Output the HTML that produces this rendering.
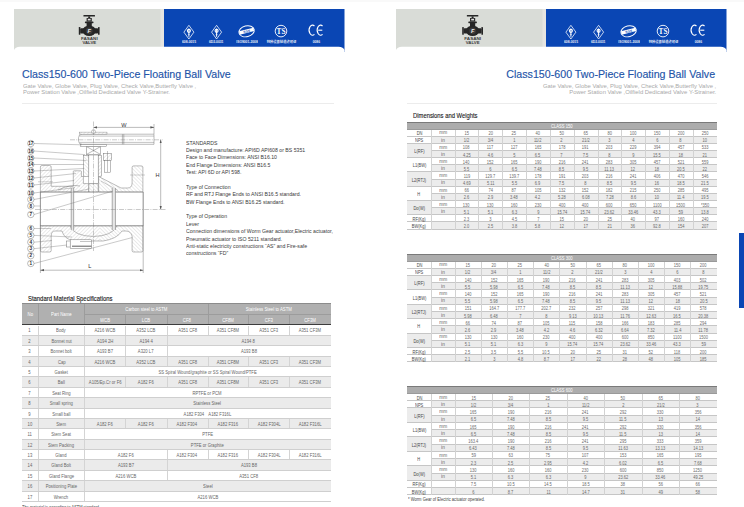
<!DOCTYPE html>
<html><head><meta charset="utf-8"><title>Class150-600 Two-Piece Floating Ball Valve</title>
<style>
*{margin:0;padding:0;box-sizing:border-box}
html,body{width:744px;height:507px;overflow:hidden;background:#fff}
body{position:relative;font-family:"Liberation Sans","Noto Sans CJK SC",sans-serif;color:#333}
.abs{position:absolute;display:block}
.t{position:absolute;white-space:nowrap;transform-origin:0 0}
.title{position:absolute;white-space:nowrap;font-size:11.4px;-webkit-text-stroke:0.15px currentColor;color:#2354a8;line-height:1}
.sub{position:absolute;white-space:nowrap;font-size:6px;color:#a9a9a9;line-height:6.45px;transform:scaleX(0.983)}
.hr{position:absolute;height:1px;background:#ececec}
.c{position:absolute;display:flex;align-items:center;justify-content:center;white-space:nowrap;overflow:visible}
</style></head><body>
<div class="abs" style="left:0;top:0;width:744px;height:2px;background:#f9f9f9"></div>


<svg class="abs" style="left:14px;top:9px" width="331" height="44" viewBox="0 0 331 44">
  <rect x="0" y="0" width="150" height="43" fill="#d9dcd7"/>
  <rect x="146.5" y="0" width="3.5" height="43" fill="#e6e5e1"/>
  <rect x="150" y="0" width="180.5" height="43" fill="#0a46b4"/>
  <path d="M0 43 L0 41 Q1 38.2 6 37.8 L324.5 37.8 Q329.5 38.2 330.5 41 L330.5 44 L0 44 Z" fill="#fff"/>
  
<g transform="translate(75.2,0)" fill="#262626">
  <rect x="-5.8" y="6" width="11.6" height="1.6" rx="0.5"/>
  <rect x="-1" y="7.4" width="2" height="2"/>
  <rect x="-2.6" y="9" width="5.2" height="3.6" fill="#2a2a2a"/>
  <rect x="-1.4" y="9.8" width="2.8" height="1.6" fill="#e0e0e0"/>
  <rect x="-4.3" y="12.6" width="8.6" height="1.6" rx="0.6"/>
  <rect x="-2.6" y="14" width="5.2" height="3"/>
  <ellipse cx="0" cy="21.8" rx="6.6" ry="5.2"/>
  <rect x="-9" y="19.2" width="18" height="5.4" rx="1"/>
  <rect x="-10.4" y="18" width="1.6" height="7.8" rx="0.6"/>
  <rect x="8.8" y="18" width="1.6" height="7.8" rx="0.6"/>
  <circle cx="0" cy="21.8" r="3.4" fill="#3a3a3a"/>
  <text x="0.1" y="24.2" font-size="5.6" font-weight="bold" font-style="italic" text-anchor="middle" fill="#eeeeee" font-family="Liberation Sans, sans-serif">F</text>
  <text x="-8.3" y="30.8" font-size="3.4" font-weight="bold" fill="#3a3a3a" font-family="Liberation Sans, sans-serif" textLength="16.8" lengthAdjust="spacingAndGlyphs">FASANI</text>
  <text x="-6.8" y="34.5" font-size="3.4" font-weight="bold" fill="#3a3a3a" font-family="Liberation Sans, sans-serif" textLength="13.8" lengthAdjust="spacingAndGlyphs">VALVE</text>
</g>
  <g fill="none" stroke="#ffffff" stroke-width="0.75">
  <path d="M174.9 16.299999999999997 L179.9 23.15 L174.9 30.0 L169.9 23.15 Z"/>
  <circle cx="174.9" cy="21.849999999999998" r="1.5" stroke-width="1.1"/>
  <path d="M174.9 19.549999999999997 V27.75" stroke-width="1"/>
  <path d="M173.9 25.349999999999998 H175.9" stroke-width="0.6"/>
</g>
<g fill="none" stroke="#ffffff" stroke-width="0.75">
  <path d="M202.6 16.299999999999997 L207.6 23.15 L202.6 30.0 L197.6 23.15 Z"/>
  <circle cx="202.6" cy="21.849999999999998" r="1.5" stroke-width="1.1"/>
  <path d="M202.6 19.549999999999997 V27.75" stroke-width="1"/>
  <path d="M201.6 25.349999999999998 H203.6" stroke-width="0.6"/>
</g>
<g transform="rotate(-14 232.6 22.3)">
  <ellipse cx="232.6" cy="22.3" rx="7.8" ry="5.4" fill="none" stroke="#ffffff" stroke-width="0.95"/>
  <rect x="225.2" y="20.5" width="14.8" height="3.4" fill="#ffffff"/>
  <text x="232.7" y="23.5" font-size="3.3" font-weight="bold" text-anchor="middle" fill="#0a46b4" font-family="Liberation Sans, sans-serif" font-style="italic">SGS</text>
</g>
<g>
  <circle cx="267" cy="22.1" r="5.8" fill="none" stroke="#ffffff" stroke-width="0.9"/>
  <text x="262.6" y="25.0" font-size="7.4" font-weight="bold" fill="#ffffff" font-family="Liberation Serif, serif" textLength="8.8" lengthAdjust="spacingAndGlyphs">TS</text>
</g>
<g fill="none" stroke="#ffffff" stroke-width="1.1">
  <path d="M300.45 17.0 A3.4 5.1 0 1 0 300.45 25.4"/>
  <path d="M308.55 17.0 A3.4 5.1 0 1 0 308.55 25.4"/>
  <path d="M304.2 21.2 H308.3"/>
</g>
<text x="175" y="34.0" font-size="3.3" font-weight="bold" text-anchor="middle" fill="#ffffff" font-family="Liberation Sans, Noto Sans CJK SC, sans-serif" opacity="0.9">608-0015</text>
<text x="202.2" y="34.0" font-size="3.3" font-weight="bold" text-anchor="middle" fill="#ffffff" font-family="Liberation Sans, Noto Sans CJK SC, sans-serif" opacity="0.9">6D2-0031</text>
<text x="233" y="34.0" font-size="3.3" font-weight="bold" text-anchor="middle" fill="#ffffff" font-family="Liberation Sans, Noto Sans CJK SC, sans-serif" opacity="0.9">ISO9001-2008</text>
<text x="267.5" y="34.0" font-size="3.3" font-weight="bold" text-anchor="middle" fill="#ffffff" font-family="Liberation Sans, Noto Sans CJK SC, sans-serif" opacity="0.9">特种设备制造许可证</text>
<text x="302.3" y="34.0" font-size="3.3" font-weight="bold" text-anchor="middle" fill="#ffffff" font-family="Liberation Sans, Noto Sans CJK SC, sans-serif" opacity="0.9">0086</text>
</svg>

<svg class="abs" style="left:395.5px;top:9px" width="331" height="44" viewBox="0 0 331 44">
  <rect x="0" y="0" width="150" height="43" fill="#d9dcd7"/>
  <rect x="146.5" y="0" width="3.5" height="43" fill="#e6e5e1"/>
  <rect x="150" y="0" width="180.5" height="43" fill="#0a46b4"/>
  <path d="M0 43 L0 41 Q1 38.2 6 37.8 L324.5 37.8 Q329.5 38.2 330.5 41 L330.5 44 L0 44 Z" fill="#fff"/>
  
<g transform="translate(76.6,0)" fill="#262626">
  <rect x="-5.8" y="6" width="11.6" height="1.6" rx="0.5"/>
  <rect x="-1" y="7.4" width="2" height="2"/>
  <rect x="-2.6" y="9" width="5.2" height="3.6" fill="#2a2a2a"/>
  <rect x="-1.4" y="9.8" width="2.8" height="1.6" fill="#e0e0e0"/>
  <rect x="-4.3" y="12.6" width="8.6" height="1.6" rx="0.6"/>
  <rect x="-2.6" y="14" width="5.2" height="3"/>
  <ellipse cx="0" cy="21.8" rx="6.6" ry="5.2"/>
  <rect x="-9" y="19.2" width="18" height="5.4" rx="1"/>
  <rect x="-10.4" y="18" width="1.6" height="7.8" rx="0.6"/>
  <rect x="8.8" y="18" width="1.6" height="7.8" rx="0.6"/>
  <circle cx="0" cy="21.8" r="3.4" fill="#3a3a3a"/>
  <text x="0.1" y="24.2" font-size="5.6" font-weight="bold" font-style="italic" text-anchor="middle" fill="#eeeeee" font-family="Liberation Sans, sans-serif">F</text>
  <text x="-8.3" y="30.8" font-size="3.4" font-weight="bold" fill="#3a3a3a" font-family="Liberation Sans, sans-serif" textLength="16.8" lengthAdjust="spacingAndGlyphs">FASANI</text>
  <text x="-6.8" y="34.5" font-size="3.4" font-weight="bold" fill="#3a3a3a" font-family="Liberation Sans, sans-serif" textLength="13.8" lengthAdjust="spacingAndGlyphs">VALVE</text>
</g>
  <g fill="none" stroke="#ffffff" stroke-width="0.75">
  <path d="M174.9 16.299999999999997 L179.9 23.15 L174.9 30.0 L169.9 23.15 Z"/>
  <circle cx="174.9" cy="21.849999999999998" r="1.5" stroke-width="1.1"/>
  <path d="M174.9 19.549999999999997 V27.75" stroke-width="1"/>
  <path d="M173.9 25.349999999999998 H175.9" stroke-width="0.6"/>
</g>
<g fill="none" stroke="#ffffff" stroke-width="0.75">
  <path d="M202.6 16.299999999999997 L207.6 23.15 L202.6 30.0 L197.6 23.15 Z"/>
  <circle cx="202.6" cy="21.849999999999998" r="1.5" stroke-width="1.1"/>
  <path d="M202.6 19.549999999999997 V27.75" stroke-width="1"/>
  <path d="M201.6 25.349999999999998 H203.6" stroke-width="0.6"/>
</g>
<g transform="rotate(-14 232.6 22.3)">
  <ellipse cx="232.6" cy="22.3" rx="7.8" ry="5.4" fill="none" stroke="#ffffff" stroke-width="0.95"/>
  <rect x="225.2" y="20.5" width="14.8" height="3.4" fill="#ffffff"/>
  <text x="232.7" y="23.5" font-size="3.3" font-weight="bold" text-anchor="middle" fill="#0a46b4" font-family="Liberation Sans, sans-serif" font-style="italic">SGS</text>
</g>
<g>
  <circle cx="267" cy="22.1" r="5.8" fill="none" stroke="#ffffff" stroke-width="0.9"/>
  <text x="262.6" y="25.0" font-size="7.4" font-weight="bold" fill="#ffffff" font-family="Liberation Serif, serif" textLength="8.8" lengthAdjust="spacingAndGlyphs">TS</text>
</g>
<g fill="none" stroke="#ffffff" stroke-width="1.1">
  <path d="M300.45 17.0 A3.4 5.1 0 1 0 300.45 25.4"/>
  <path d="M308.55 17.0 A3.4 5.1 0 1 0 308.55 25.4"/>
  <path d="M304.2 21.2 H308.3"/>
</g>
<text x="175" y="34.0" font-size="3.3" font-weight="bold" text-anchor="middle" fill="#ffffff" font-family="Liberation Sans, Noto Sans CJK SC, sans-serif" opacity="0.9">608-0015</text>
<text x="202.2" y="34.0" font-size="3.3" font-weight="bold" text-anchor="middle" fill="#ffffff" font-family="Liberation Sans, Noto Sans CJK SC, sans-serif" opacity="0.9">6D2-0031</text>
<text x="233" y="34.0" font-size="3.3" font-weight="bold" text-anchor="middle" fill="#ffffff" font-family="Liberation Sans, Noto Sans CJK SC, sans-serif" opacity="0.9">ISO9001-2008</text>
<text x="267.5" y="34.0" font-size="3.3" font-weight="bold" text-anchor="middle" fill="#ffffff" font-family="Liberation Sans, Noto Sans CJK SC, sans-serif" opacity="0.9">特种设备制造许可证</text>
<text x="302.3" y="34.0" font-size="3.3" font-weight="bold" text-anchor="middle" fill="#ffffff" font-family="Liberation Sans, Noto Sans CJK SC, sans-serif" opacity="0.9">0086</text>
</svg>
<div class="title" style="left:22.3px;top:68.6px;transform:scaleX(0.936);transform-origin:0 0">Class150-600 Two-Piece Floating Ball Valve</div>
<div class="sub" style="left:22.6px;top:83px;transform-origin:0 0">Gate Valve, Globe Valve, Plug Valve, Check Valve,Butterfly Valve ,<br>Power Station Valve ,Oilfield Dedicated Valve Y-Strainer.</div>
<div class="hr" style="left:22px;top:103px;width:312px"></div>
<div class="title" style="right:28.5px;top:69px;text-align:right;transform:scaleX(0.936);transform-origin:100% 0">Class150-600 Two-Piece Floating Ball Valve</div>
<div class="sub" style="right:27.6px;top:83px;text-align:right;transform-origin:100% 0">Gate Valve, Globe Valve, Plug Valve, Check Valve,Butterfly Valve ,<br>Power Station Valve ,Oilfield Dedicated Valve Y-Strainer.</div>
<div class="hr" style="left:407px;top:103px;width:310px"></div>
<div class="t" style="left:186px;top:139.7px;font-size:5.4px;line-height:7.37px;color:#3a3a3a;transform:scaleX(0.958)">STANDARDS<br>Design and manufacture: API6D API608 or BS 5351<br>Face to Face Dimensions: ANSI B16.10<br>End Flange Dimensions: ANSI B16.5<br>Test: API 6D or API 598.<br>&nbsp;<br>Type of Connection<br>RF and RTJ Flange Ends to ANSI B16.5 standard.<br>BW Flange Ends to ANSI B16.25 standard.<br>&nbsp;<br>Type of Operation<br>Lever<br>Connection dimensions of Worm Gear actuator,Electric actuator,<br>Pneumatic actuator to ISO 5211 standard.<br>Anti-static electricity constructions “AS” and Fire-safe<br>constructions “FD”</div>
<div class="t" style="left:28.3px;top:294.6px;font-size:7.2px;line-height:1;color:#1a1a1a;-webkit-text-stroke:0.15px #1a1a1a;transform:scaleX(0.82)">Standard Material Specifications</div>
<div class="t" style="left:413.1px;top:113.3px;font-size:6.6px;line-height:1;color:#1a1a1a;-webkit-text-stroke:0.12px #1a1a1a;transform:scaleX(0.886)">Dimensions and Weights</div>
<svg class="abs" style="left:0px;top:112px" width="180" height="168" viewBox="0 112 180 168" font-family="Liberation Sans, sans-serif">
<defs>
<pattern id="hat" patternUnits="userSpaceOnUse" width="2.6" height="2.6" patternTransform="rotate(45)">
<rect width="2.6" height="2.6" fill="#fff"/><line x1="0" y1="0" x2="0" y2="2.6" stroke="#9a9a9a" stroke-width="0.4"/></pattern>
<pattern id="hat2" patternUnits="userSpaceOnUse" width="2.6" height="2.6" patternTransform="rotate(-45)">
<rect width="2.6" height="2.6" fill="#fff"/><line x1="0" y1="0" x2="0" y2="2.6" stroke="#9a9a9a" stroke-width="0.4"/></pattern>
<marker id="ar" markerWidth="4" markerHeight="4" refX="3.6" refY="2" orient="auto" markerUnits="userSpaceOnUse"><path d="M0 0.9 L3.8 2 L0 3.1 Z" fill="#555"/></marker>
<marker id="ars" markerWidth="4" markerHeight="4" refX="3.6" refY="2" orient="auto-start-reverse" markerUnits="userSpaceOnUse"><path d="M0 0.9 L3.8 2 L0 3.1 Z" fill="#555"/></marker>
</defs>
<path d="M40.4 192 V167 Q40.4 165.5 42 165.5 H49.6 Q51.2 165.5 51.2 167 V186.3 H73.3 V171.5 Q73.3 170.8 74 170.8 H80.7 Q81.4 170.8 81.4 171.5 V176.5 L83.4 176.5 V183.6 L88.8 183.6 V192 Z" fill="url(#hat)" stroke="#6a6a6a" stroke-width="0.45"/>
<path d="M98.6 183.6 V176.5 L121 188 H127.5 Q132.1 188 132.1 183 V167.4 Q132.1 165.9 133.6 165.9 H141.3 Q142.9 165.9 142.9 167.4 V192 H98.6 Z" fill="url(#hat2)" stroke="#6a6a6a" stroke-width="0.45"/>
<line x1="101" y1="181" x2="118" y2="190.5" stroke="#7a7a7a" stroke-width="0.4"/>
<line x1="130" y1="175" x2="145" y2="175" stroke="#7a7a7a" stroke-width="0.35"/>
<line x1="38" y1="181.8" x2="53" y2="181.8" stroke="#7a7a7a" stroke-width="0.35"/>
<path d="M88.8 183.6 H98.2 V192 H88.8 Z" fill="url(#hat2)" stroke="#6a6a6a" stroke-width="0.45"/>
<clipPath id="cl"><rect x="30" y="220" width="70" height="40"/></clipPath><clipPath id="cr"><rect x="100" y="220" width="60" height="40"/></clipPath>
<path d="M40.4 225.6 H142.9 V250.5 Q142.9 252 141.4 252 H133.6 Q132.1 252 132.1 250.5 V236 Q130.5 231 126 231 H122 Q117 239 103 241 H74 Q64 239 62 231 H55 Q51.2 231 51.2 236 V250.5 Q51.2 252 49.6 252 H42 Q40.4 252 40.4 250.5 Z" fill="url(#hat)" stroke="none" clip-path="url(#cl)"/>
<path d="M40.4 225.6 H142.9 V250.5 Q142.9 252 141.4 252 H133.6 Q132.1 252 132.1 250.5 V236 Q130.5 231 126 231 H122 Q117 239 103 241 H74 Q64 239 62 231 H55 Q51.2 231 51.2 236 V250.5 Q51.2 252 49.6 252 H42 Q40.4 252 40.4 250.5 Z" fill="url(#hat2)" stroke="none" clip-path="url(#cr)"/>
<path d="M40.4 225.6 H142.9 V250.5 Q142.9 252 141.4 252 H133.6 Q132.1 252 132.1 250.5 V236 Q130.5 231 126 231 H122 Q117 239 103 241 H74 Q64 239 62 231 H55 Q51.2 231 51.2 236 V250.5 Q51.2 252 49.6 252 H42 Q40.4 252 40.4 250.5 Z" fill="none" stroke="#6a6a6a" stroke-width="0.45"/>
<path d="M70 226 Q74 236 93.5 236.5 Q112 236 117 226" fill="none" stroke="#6a6a6a" stroke-width="0.45"/>
<path d="M58 190 Q70 184 80 186" fill="none" stroke="#6a6a6a" stroke-width="0.45"/>
<line x1="40.4" y1="192" x2="143.2" y2="192" stroke="#6a6a6a" stroke-width="0.45"/>
<line x1="40.4" y1="226" x2="143.2" y2="226" stroke="#6a6a6a" stroke-width="0.45"/>
<line x1="40.4" y1="192" x2="40.4" y2="273" stroke="#6a6a6a" stroke-width="0.45"/>
<line x1="143.2" y1="192" x2="143.2" y2="273" stroke="#6a6a6a" stroke-width="0.45"/>
<line x1="40.4" y1="192" x2="40.4" y2="226" stroke="#6a6a6a" stroke-width="0.45"/>
<line x1="143.2" y1="192" x2="143.2" y2="226" stroke="#6a6a6a" stroke-width="0.45"/>
<line x1="71.3" y1="188" x2="71.3" y2="230" stroke="#7a7a7a" stroke-width="0.5"/>
<line x1="73.6" y1="188" x2="73.6" y2="230" stroke="#7a7a7a" stroke-width="0.5"/>
<line x1="112.3" y1="188" x2="112.3" y2="230" stroke="#7a7a7a" stroke-width="0.5"/>
<line x1="115.4" y1="188" x2="115.4" y2="230" stroke="#7a7a7a" stroke-width="0.5"/>
<rect x="71.3" y="188" width="2.3" height="42" fill="#e6e6e6" stroke="none"/>
<rect x="112.3" y="188" width="3.1" height="42" fill="#e6e6e6" stroke="none"/>
<line x1="71.3" y1="188" x2="71.3" y2="230" stroke="#7a7a7a" stroke-width="0.45"/>
<line x1="73.6" y1="188" x2="73.6" y2="230" stroke="#7a7a7a" stroke-width="0.45"/>
<line x1="112.3" y1="188" x2="112.3" y2="230" stroke="#7a7a7a" stroke-width="0.45"/>
<line x1="115.4" y1="188" x2="115.4" y2="230" stroke="#7a7a7a" stroke-width="0.45"/>
<rect x="88.8" y="155" width="9.4" height="28.6" fill="#fff" stroke="#6a6a6a" stroke-width="0.45"/>
<rect x="83.4" y="155.4" width="5.4" height="21.1" fill="url(#hat2)" stroke="#6a6a6a" stroke-width="0.45"/>
<rect x="98.2" y="155.4" width="3.2" height="21.1" fill="url(#hat)" stroke="#6a6a6a" stroke-width="0.45"/>
<rect x="103.5" y="153.4" width="8.1" height="7" fill="url(#hat)" stroke="#6a6a6a" stroke-width="0.45"/>
<rect x="104.5" y="160.4" width="6.1" height="11.8" fill="#fff" stroke="#6a6a6a" stroke-width="0.45"/>
<line x1="107.5" y1="151" x2="107.5" y2="172" stroke="#6a6a6a" stroke-width="0.4"/>
<rect x="86.4" y="146.5" width="14.3" height="8" fill="#fff" stroke="#6a6a6a" stroke-width="0.45"/>
<path d="M86.4 146.5 L100.7 154.5 M100.7 146.5 L86.4 154.5" stroke="#6a6a6a" stroke-width="0.45"/>
<rect x="80.2" y="144.5" width="26.5" height="2" fill="#fff" stroke="#6a6a6a" stroke-width="0.45"/>
<path d="M82.3 134.2 H154 V144.3 H82.3 Q78.5 144.3 78.5 140.8 V137.7 Q78.5 134.2 82.3 134.2 Z" fill="#fff" stroke="#6a6a6a" stroke-width="0.45"/>
<line x1="79.5" y1="136.1" x2="154" y2="136.1" stroke="#6a6a6a" stroke-width="0.4"/>
<line x1="79.5" y1="142.4" x2="154" y2="142.4" stroke="#6a6a6a" stroke-width="0.4"/>
<line x1="122.4" y1="134.2" x2="122.4" y2="144.3" stroke="#6a6a6a" stroke-width="0.45"/>
<line x1="123.8" y1="134.2" x2="123.8" y2="144.3" stroke="#6a6a6a" stroke-width="0.45"/>
<rect x="79.5" y="132.1" width="27.5" height="2" fill="url(#hat)" stroke="#6a6a6a" stroke-width="0.35"/>
<circle cx="93.5" cy="131.6" r="1.9" fill="#fff" stroke="#6a6a6a" stroke-width="0.45"/>
<rect x="66.7" y="241" width="3.5" height="6" fill="#fff" stroke="#6a6a6a" stroke-width="0.45"/>
<rect x="70.2" y="239.8" width="21.2" height="8.5" fill="#fff" stroke="#6a6a6a" stroke-width="0.45"/>
<line x1="72" y1="246.2" x2="91.4" y2="246.2" stroke="#333" stroke-width="0.8"/>
<line x1="80" y1="241.5" x2="91.4" y2="241.5" stroke="#6a6a6a" stroke-width="0.4"/>
<line x1="93.5" y1="121.5" x2="93.5" y2="251" stroke="#7a7a7a" stroke-width="0.4" stroke-dasharray="5 1.2 1 1.2"/>
<line x1="35" y1="209.5" x2="165.5" y2="209.5" stroke="#7a7a7a" stroke-width="0.4" stroke-dasharray="5 1.2 1 1.2"/>
<line x1="70" y1="139.8" x2="163" y2="139.8" stroke="#7a7a7a" stroke-width="0.4" stroke-dasharray="5 1.2 1 1.2"/>
<line x1="154" y1="124" x2="154" y2="134" stroke="#555" stroke-width="0.4"/>
<line x1="93.5" y1="127.4" x2="154" y2="127.4" stroke="#555" stroke-width="0.4" marker-end="url(#ar)" marker-start="url(#ars)"/>
<line x1="160.7" y1="139.8" x2="160.7" y2="209.5" stroke="#555" stroke-width="0.4" marker-end="url(#ar)" marker-start="url(#ars)"/>
<line x1="40.4" y1="270.2" x2="143.2" y2="270.2" stroke="#555" stroke-width="0.4" marker-end="url(#ar)" marker-start="url(#ars)"/>
<text x="123.8" y="127" font-size="5.6" text-anchor="middle" fill="#333">W</text>
<text x="157.6" y="177.4" font-size="5.6" text-anchor="middle" fill="#333">H</text>
<text x="89.9" y="268.4" font-size="5.6" text-anchor="middle" fill="#333">L</text>
<line x1="34" y1="143.5" x2="82" y2="144.8" stroke="#7a7a7a" stroke-width="0.4"/>
<line x1="34" y1="151" x2="85" y2="154.6" stroke="#7a7a7a" stroke-width="0.4"/>
<line x1="34" y1="158" x2="86.5" y2="160.5" stroke="#7a7a7a" stroke-width="0.4"/>
<line x1="34" y1="164.5" x2="84" y2="164.5" stroke="#7a7a7a" stroke-width="0.4"/>
<line x1="34" y1="171" x2="84" y2="168.5" stroke="#7a7a7a" stroke-width="0.4"/>
<line x1="34" y1="178" x2="76" y2="173.5" stroke="#7a7a7a" stroke-width="0.4"/>
<line x1="34" y1="185" x2="74" y2="180.5" stroke="#7a7a7a" stroke-width="0.4"/>
<line x1="34" y1="193" x2="75" y2="187.5" stroke="#7a7a7a" stroke-width="0.4"/>
<line x1="34" y1="199.5" x2="89" y2="189" stroke="#7a7a7a" stroke-width="0.4"/>
<line x1="34" y1="206" x2="40.4" y2="206" stroke="#7a7a7a" stroke-width="0.4"/>
<line x1="34" y1="214.5" x2="113" y2="191" stroke="#7a7a7a" stroke-width="0.4"/>
<line x1="34" y1="228.5" x2="51" y2="228.5" stroke="#7a7a7a" stroke-width="0.4"/>
<line x1="34" y1="235.4" x2="72" y2="237" stroke="#7a7a7a" stroke-width="0.4"/>
<line x1="34" y1="242.2" x2="52" y2="240.5" stroke="#7a7a7a" stroke-width="0.4"/>
<line x1="34" y1="248.7" x2="67" y2="245" stroke="#7a7a7a" stroke-width="0.4"/>
<line x1="34" y1="263.5" x2="132.4" y2="237.5" stroke="#7a7a7a" stroke-width="0.4"/>
<circle cx="30.8" cy="143.5" r="3.2" fill="#fff" stroke="#666" stroke-width="0.45"/>
<text x="30.8" y="145.15" font-size="4.7" font-weight="bold" text-anchor="middle" fill="#2a2a2a" textLength="5.2" lengthAdjust="spacingAndGlyphs">17</text>
<circle cx="30.8" cy="151" r="3.2" fill="#fff" stroke="#666" stroke-width="0.45"/>
<text x="30.8" y="152.65" font-size="4.7" font-weight="bold" text-anchor="middle" fill="#2a2a2a" textLength="5.2" lengthAdjust="spacingAndGlyphs">16</text>
<circle cx="30.8" cy="158" r="3.2" fill="#fff" stroke="#666" stroke-width="0.45"/>
<text x="30.8" y="159.65" font-size="4.7" font-weight="bold" text-anchor="middle" fill="#2a2a2a" textLength="5.2" lengthAdjust="spacingAndGlyphs">15</text>
<circle cx="30.8" cy="164.5" r="3.2" fill="#fff" stroke="#666" stroke-width="0.45"/>
<text x="30.8" y="166.15" font-size="4.7" font-weight="bold" text-anchor="middle" fill="#2a2a2a" textLength="5.2" lengthAdjust="spacingAndGlyphs">14</text>
<circle cx="30.8" cy="171" r="3.2" fill="#fff" stroke="#666" stroke-width="0.45"/>
<text x="30.8" y="172.65" font-size="4.7" font-weight="bold" text-anchor="middle" fill="#2a2a2a" textLength="5.2" lengthAdjust="spacingAndGlyphs">13</text>
<circle cx="30.8" cy="178" r="3.2" fill="#fff" stroke="#666" stroke-width="0.45"/>
<text x="30.8" y="179.65" font-size="4.7" font-weight="bold" text-anchor="middle" fill="#2a2a2a" textLength="5.2" lengthAdjust="spacingAndGlyphs">12</text>
<circle cx="30.8" cy="185" r="3.2" fill="#fff" stroke="#666" stroke-width="0.45"/>
<text x="30.8" y="186.65" font-size="4.7" font-weight="bold" text-anchor="middle" fill="#2a2a2a" textLength="5.2" lengthAdjust="spacingAndGlyphs">11</text>
<circle cx="30.8" cy="193" r="3.2" fill="#fff" stroke="#666" stroke-width="0.45"/>
<text x="30.8" y="194.65" font-size="4.7" font-weight="bold" text-anchor="middle" fill="#2a2a2a" textLength="5.2" lengthAdjust="spacingAndGlyphs">10</text>
<circle cx="30.8" cy="199.5" r="3.2" fill="#fff" stroke="#666" stroke-width="0.45"/>
<text x="30.8" y="201.15" font-size="4.7" font-weight="bold" text-anchor="middle" fill="#2a2a2a">9</text>
<circle cx="30.8" cy="206" r="3.2" fill="#fff" stroke="#666" stroke-width="0.45"/>
<text x="30.8" y="207.65" font-size="4.7" font-weight="bold" text-anchor="middle" fill="#2a2a2a">8</text>
<circle cx="30.8" cy="214.5" r="3.2" fill="#fff" stroke="#666" stroke-width="0.45"/>
<text x="30.8" y="216.15" font-size="4.7" font-weight="bold" text-anchor="middle" fill="#2a2a2a">7</text>
<circle cx="30.8" cy="228.5" r="3.2" fill="#fff" stroke="#666" stroke-width="0.45"/>
<text x="30.8" y="230.15" font-size="4.7" font-weight="bold" text-anchor="middle" fill="#2a2a2a">6</text>
<circle cx="30.8" cy="235.4" r="3.2" fill="#fff" stroke="#666" stroke-width="0.45"/>
<text x="30.8" y="237.05" font-size="4.7" font-weight="bold" text-anchor="middle" fill="#2a2a2a">5</text>
<circle cx="30.8" cy="242.2" r="3.2" fill="#fff" stroke="#666" stroke-width="0.45"/>
<text x="30.8" y="243.85" font-size="4.7" font-weight="bold" text-anchor="middle" fill="#2a2a2a">4</text>
<circle cx="30.8" cy="248.7" r="3.2" fill="#fff" stroke="#666" stroke-width="0.45"/>
<text x="30.8" y="250.35" font-size="4.7" font-weight="bold" text-anchor="middle" fill="#2a2a2a">3</text>
<circle cx="30.8" cy="255.7" r="3.2" fill="#fff" stroke="#666" stroke-width="0.45"/>
<text x="30.8" y="257.34999999999997" font-size="4.7" font-weight="bold" text-anchor="middle" fill="#2a2a2a">2</text>
<circle cx="30.8" cy="263.5" r="3.2" fill="#fff" stroke="#666" stroke-width="0.45"/>
<text x="30.8" y="265.15" font-size="4.7" font-weight="bold" text-anchor="middle" fill="#2a2a2a">1</text>
</svg>
<div class="abs" style="left:22.00px;top:303.00px;width:309.00px;height:21.00px;background:#b0b0b0"></div>
<div class="abs" style="left:22.00px;top:303.00px;width:309.00px;height:1.00px;background:#8c8c8c"></div>
<div class="abs" style="left:38.00px;top:304.00px;width:1.00px;height:20.00px;background:#9c9c9c"></div>
<div class="abs" style="left:84.00px;top:304.00px;width:1.00px;height:20.00px;background:#9c9c9c"></div>
<div class="abs" style="left:208.00px;top:304.00px;width:1.00px;height:20.00px;background:#9c9c9c"></div>
<div class="abs" style="left:84.00px;top:314.00px;width:247.00px;height:1.00px;background:#9c9c9c"></div>
<div class="abs" style="left:125.00px;top:314.00px;width:1.00px;height:10.00px;background:#9c9c9c"></div>
<div class="abs" style="left:167.00px;top:314.00px;width:1.00px;height:10.00px;background:#9c9c9c"></div>
<div class="abs" style="left:248.00px;top:314.00px;width:1.00px;height:10.00px;background:#9c9c9c"></div>
<div class="abs" style="left:289.00px;top:314.00px;width:1.00px;height:10.00px;background:#9c9c9c"></div>
<div class="c" style="left:21.50px;top:303.30px;width:16.80px;height:21.10px;font-size:5.2px;color:#fff;"><span style="display:inline-block;transform:scaleX(0.83)">No</span></div>
<div class="c" style="left:38.30px;top:303.30px;width:46.00px;height:21.10px;font-size:5.2px;color:#fff;"><span style="display:inline-block;transform:scaleX(0.83)">Part Name</span></div>
<div class="c" style="left:84.30px;top:303.60px;width:123.40px;height:11.20px;font-size:5.2px;color:#fff;"><span style="display:inline-block;transform:scaleX(0.83)">Carbon steel to ASTM</span></div>
<div class="c" style="left:207.70px;top:303.60px;width:122.90px;height:11.20px;font-size:5.2px;color:#fff;"><span style="display:inline-block;transform:scaleX(0.83)">Stainless Steel to ASTM</span></div>
<div class="c" style="left:84.30px;top:315.20px;width:40.90px;height:9.90px;font-size:5.2px;color:#fff;"><span style="display:inline-block;transform:scaleX(0.83)">WCB</span></div>
<div class="c" style="left:125.20px;top:315.20px;width:41.50px;height:9.90px;font-size:5.2px;color:#fff;"><span style="display:inline-block;transform:scaleX(0.83)">LCB</span></div>
<div class="c" style="left:166.70px;top:315.20px;width:41.00px;height:9.90px;font-size:5.2px;color:#fff;"><span style="display:inline-block;transform:scaleX(0.83)">CF8</span></div>
<div class="c" style="left:207.70px;top:315.20px;width:40.60px;height:9.90px;font-size:5.2px;color:#fff;"><span style="display:inline-block;transform:scaleX(0.83)">CF8M</span></div>
<div class="c" style="left:248.30px;top:315.20px;width:41.10px;height:9.90px;font-size:5.2px;color:#fff;"><span style="display:inline-block;transform:scaleX(0.83)">CF3</span></div>
<div class="c" style="left:289.40px;top:315.20px;width:41.20px;height:9.90px;font-size:5.2px;color:#fff;"><span style="display:inline-block;transform:scaleX(0.83)">CF3M</span></div>
<div class="abs" style="left:22.00px;top:324.00px;width:309.00px;height:1.00px;background:#3c3c3c"></div>
<div class="abs" style="left:22.00px;top:335.00px;width:309.00px;height:1.00px;background:#cfcfcf"></div>
<div class="abs" style="left:38.00px;top:326.00px;width:1.00px;height:9.00px;background:#d4d4d4"></div>
<div class="abs" style="left:84.00px;top:326.00px;width:1.00px;height:9.00px;background:#d4d4d4"></div>
<div class="c" style="left:21.50px;top:325.30px;width:16.80px;height:10.38px;font-size:5.2px;color:#666666;"><span style="display:inline-block;transform:scaleX(0.81)">1</span></div>
<div class="c" style="left:38.30px;top:325.30px;width:46.00px;height:10.38px;font-size:5.2px;color:#666666;"><span style="display:inline-block;transform:scaleX(0.81)">Body</span></div>
<div class="c" style="left:84.30px;top:325.30px;width:40.90px;height:10.38px;font-size:5.2px;color:#666666;"><span style="display:inline-block;transform:scaleX(0.81)">A216 WCB</span></div>
<div class="abs" style="left:125.00px;top:326.00px;width:1.00px;height:9.00px;background:#d4d4d4"></div>
<div class="c" style="left:125.20px;top:325.30px;width:41.50px;height:10.38px;font-size:5.2px;color:#666666;"><span style="display:inline-block;transform:scaleX(0.81)">A352 LCB</span></div>
<div class="abs" style="left:167.00px;top:326.00px;width:1.00px;height:9.00px;background:#d4d4d4"></div>
<div class="c" style="left:166.70px;top:325.30px;width:41.00px;height:10.38px;font-size:5.2px;color:#666666;"><span style="display:inline-block;transform:scaleX(0.81)">A351 CF8</span></div>
<div class="abs" style="left:208.00px;top:326.00px;width:1.00px;height:9.00px;background:#d4d4d4"></div>
<div class="c" style="left:207.70px;top:325.30px;width:40.60px;height:10.38px;font-size:5.2px;color:#666666;"><span style="display:inline-block;transform:scaleX(0.81)">A351 CF8M</span></div>
<div class="abs" style="left:248.00px;top:326.00px;width:1.00px;height:9.00px;background:#d4d4d4"></div>
<div class="c" style="left:248.30px;top:325.30px;width:41.10px;height:10.38px;font-size:5.2px;color:#666666;"><span style="display:inline-block;transform:scaleX(0.81)">A351 CF3</span></div>
<div class="abs" style="left:289.00px;top:326.00px;width:1.00px;height:9.00px;background:#d4d4d4"></div>
<div class="c" style="left:289.40px;top:325.30px;width:41.20px;height:10.38px;font-size:5.2px;color:#666666;"><span style="display:inline-block;transform:scaleX(0.81)">A351 CF3M</span></div>
<div class="abs" style="left:22.00px;top:336.00px;width:309.00px;height:10.00px;background:#ebebeb"></div>
<div class="abs" style="left:22.00px;top:345.00px;width:309.00px;height:1.00px;background:#cfcfcf"></div>
<div class="abs" style="left:38.00px;top:336.00px;width:1.00px;height:9.00px;background:#d4d4d4"></div>
<div class="abs" style="left:84.00px;top:336.00px;width:1.00px;height:9.00px;background:#d4d4d4"></div>
<div class="c" style="left:21.50px;top:335.68px;width:16.80px;height:10.38px;font-size:5.2px;color:#666666;"><span style="display:inline-block;transform:scaleX(0.81)">2</span></div>
<div class="c" style="left:38.30px;top:335.68px;width:46.00px;height:10.38px;font-size:5.2px;color:#666666;"><span style="display:inline-block;transform:scaleX(0.81)">Bonnet nut</span></div>
<div class="c" style="left:84.30px;top:335.68px;width:40.90px;height:10.38px;font-size:5.2px;color:#666666;"><span style="display:inline-block;transform:scaleX(0.81)">A194 2H</span></div>
<div class="abs" style="left:125.00px;top:336.00px;width:1.00px;height:9.00px;background:#d4d4d4"></div>
<div class="c" style="left:125.20px;top:335.68px;width:41.50px;height:10.38px;font-size:5.2px;color:#666666;"><span style="display:inline-block;transform:scaleX(0.81)">A194 4</span></div>
<div class="abs" style="left:167.00px;top:336.00px;width:1.00px;height:9.00px;background:#d4d4d4"></div>
<div class="c" style="left:166.70px;top:335.68px;width:163.90px;height:10.38px;font-size:5.2px;color:#666666;"><span style="display:inline-block;transform:scaleX(0.81)">A194 8</span></div>
<div class="abs" style="left:22.00px;top:356.00px;width:309.00px;height:1.00px;background:#cfcfcf"></div>
<div class="abs" style="left:38.00px;top:346.00px;width:1.00px;height:10.00px;background:#d4d4d4"></div>
<div class="abs" style="left:84.00px;top:346.00px;width:1.00px;height:10.00px;background:#d4d4d4"></div>
<div class="c" style="left:21.50px;top:346.06px;width:16.80px;height:10.38px;font-size:5.2px;color:#666666;"><span style="display:inline-block;transform:scaleX(0.81)">3</span></div>
<div class="c" style="left:38.30px;top:346.06px;width:46.00px;height:10.38px;font-size:5.2px;color:#666666;"><span style="display:inline-block;transform:scaleX(0.81)">Bonnet bolt</span></div>
<div class="c" style="left:84.30px;top:346.06px;width:40.90px;height:10.38px;font-size:5.2px;color:#666666;"><span style="display:inline-block;transform:scaleX(0.81)">A193 B7</span></div>
<div class="abs" style="left:125.00px;top:346.00px;width:1.00px;height:10.00px;background:#d4d4d4"></div>
<div class="c" style="left:125.20px;top:346.06px;width:41.50px;height:10.38px;font-size:5.2px;color:#666666;"><span style="display:inline-block;transform:scaleX(0.81)">A320 L7</span></div>
<div class="abs" style="left:167.00px;top:346.00px;width:1.00px;height:10.00px;background:#d4d4d4"></div>
<div class="c" style="left:166.70px;top:346.06px;width:163.90px;height:10.38px;font-size:5.2px;color:#666666;"><span style="display:inline-block;transform:scaleX(0.81)">A193 B8</span></div>
<div class="abs" style="left:22.00px;top:357.00px;width:309.00px;height:10.00px;background:#ebebeb"></div>
<div class="abs" style="left:22.00px;top:366.00px;width:309.00px;height:1.00px;background:#cfcfcf"></div>
<div class="abs" style="left:38.00px;top:357.00px;width:1.00px;height:9.00px;background:#d4d4d4"></div>
<div class="abs" style="left:84.00px;top:357.00px;width:1.00px;height:9.00px;background:#d4d4d4"></div>
<div class="c" style="left:21.50px;top:356.45px;width:16.80px;height:10.38px;font-size:5.2px;color:#666666;"><span style="display:inline-block;transform:scaleX(0.81)">4</span></div>
<div class="c" style="left:38.30px;top:356.45px;width:46.00px;height:10.38px;font-size:5.2px;color:#666666;"><span style="display:inline-block;transform:scaleX(0.81)">Cap</span></div>
<div class="c" style="left:84.30px;top:356.45px;width:40.90px;height:10.38px;font-size:5.2px;color:#666666;"><span style="display:inline-block;transform:scaleX(0.81)">A216 WCB</span></div>
<div class="abs" style="left:125.00px;top:357.00px;width:1.00px;height:9.00px;background:#d4d4d4"></div>
<div class="c" style="left:125.20px;top:356.45px;width:41.50px;height:10.38px;font-size:5.2px;color:#666666;"><span style="display:inline-block;transform:scaleX(0.81)">A352 LCB</span></div>
<div class="abs" style="left:167.00px;top:357.00px;width:1.00px;height:9.00px;background:#d4d4d4"></div>
<div class="c" style="left:166.70px;top:356.45px;width:41.00px;height:10.38px;font-size:5.2px;color:#666666;"><span style="display:inline-block;transform:scaleX(0.81)">A351 CF8</span></div>
<div class="abs" style="left:208.00px;top:357.00px;width:1.00px;height:9.00px;background:#d4d4d4"></div>
<div class="c" style="left:207.70px;top:356.45px;width:40.60px;height:10.38px;font-size:5.2px;color:#666666;"><span style="display:inline-block;transform:scaleX(0.81)">A351 CF8M</span></div>
<div class="abs" style="left:248.00px;top:357.00px;width:1.00px;height:9.00px;background:#d4d4d4"></div>
<div class="c" style="left:248.30px;top:356.45px;width:41.10px;height:10.38px;font-size:5.2px;color:#666666;"><span style="display:inline-block;transform:scaleX(0.81)">A351 CF3</span></div>
<div class="abs" style="left:289.00px;top:357.00px;width:1.00px;height:9.00px;background:#d4d4d4"></div>
<div class="c" style="left:289.40px;top:356.45px;width:41.20px;height:10.38px;font-size:5.2px;color:#666666;"><span style="display:inline-block;transform:scaleX(0.81)">A351 CF3M</span></div>
<div class="abs" style="left:22.00px;top:376.00px;width:309.00px;height:1.00px;background:#cfcfcf"></div>
<div class="abs" style="left:38.00px;top:367.00px;width:1.00px;height:9.00px;background:#d4d4d4"></div>
<div class="abs" style="left:84.00px;top:367.00px;width:1.00px;height:9.00px;background:#d4d4d4"></div>
<div class="c" style="left:21.50px;top:366.83px;width:16.80px;height:10.38px;font-size:5.2px;color:#666666;"><span style="display:inline-block;transform:scaleX(0.81)">5</span></div>
<div class="c" style="left:38.30px;top:366.83px;width:46.00px;height:10.38px;font-size:5.2px;color:#666666;"><span style="display:inline-block;transform:scaleX(0.81)">Gasket</span></div>
<div class="c" style="left:84.30px;top:366.83px;width:246.30px;height:10.38px;font-size:5.2px;color:#666666;"><span style="display:inline-block;transform:scaleX(0.81)">SS Spiral Wound/graphite or SS Spiral Wound/PTFE</span></div>
<div class="abs" style="left:22.00px;top:377.00px;width:309.00px;height:11.00px;background:#ebebeb"></div>
<div class="abs" style="left:22.00px;top:387.00px;width:309.00px;height:1.00px;background:#cfcfcf"></div>
<div class="abs" style="left:38.00px;top:377.00px;width:1.00px;height:10.00px;background:#d4d4d4"></div>
<div class="abs" style="left:84.00px;top:377.00px;width:1.00px;height:10.00px;background:#d4d4d4"></div>
<div class="c" style="left:21.50px;top:377.21px;width:16.80px;height:10.38px;font-size:5.2px;color:#666666;"><span style="display:inline-block;transform:scaleX(0.81)">6</span></div>
<div class="c" style="left:38.30px;top:377.21px;width:46.00px;height:10.38px;font-size:5.2px;color:#666666;"><span style="display:inline-block;transform:scaleX(0.81)">Ball</span></div>
<div class="c" style="left:84.30px;top:377.21px;width:40.90px;height:10.38px;font-size:5.2px;color:#666666;"><span style="display:inline-block;transform:scaleX(0.81)">A105/Ep.Cr or F6</span></div>
<div class="abs" style="left:125.00px;top:377.00px;width:1.00px;height:10.00px;background:#d4d4d4"></div>
<div class="c" style="left:125.20px;top:377.21px;width:41.50px;height:10.38px;font-size:5.2px;color:#666666;"><span style="display:inline-block;transform:scaleX(0.81)">A182 F6</span></div>
<div class="abs" style="left:167.00px;top:377.00px;width:1.00px;height:10.00px;background:#d4d4d4"></div>
<div class="c" style="left:166.70px;top:377.21px;width:41.00px;height:10.38px;font-size:5.2px;color:#666666;"><span style="display:inline-block;transform:scaleX(0.81)">A351 CF8</span></div>
<div class="abs" style="left:208.00px;top:377.00px;width:1.00px;height:10.00px;background:#d4d4d4"></div>
<div class="c" style="left:207.70px;top:377.21px;width:40.60px;height:10.38px;font-size:5.2px;color:#666666;"><span style="display:inline-block;transform:scaleX(0.81)">A351 CF8M</span></div>
<div class="abs" style="left:248.00px;top:377.00px;width:1.00px;height:10.00px;background:#d4d4d4"></div>
<div class="c" style="left:248.30px;top:377.21px;width:41.10px;height:10.38px;font-size:5.2px;color:#666666;"><span style="display:inline-block;transform:scaleX(0.81)">A351 CF3</span></div>
<div class="abs" style="left:289.00px;top:377.00px;width:1.00px;height:10.00px;background:#d4d4d4"></div>
<div class="c" style="left:289.40px;top:377.21px;width:41.20px;height:10.38px;font-size:5.2px;color:#666666;"><span style="display:inline-block;transform:scaleX(0.81)">A351 CF3M</span></div>
<div class="abs" style="left:22.00px;top:397.00px;width:309.00px;height:1.00px;background:#cfcfcf"></div>
<div class="abs" style="left:38.00px;top:388.00px;width:1.00px;height:9.00px;background:#d4d4d4"></div>
<div class="abs" style="left:84.00px;top:388.00px;width:1.00px;height:9.00px;background:#d4d4d4"></div>
<div class="c" style="left:21.50px;top:387.59px;width:16.80px;height:10.38px;font-size:5.2px;color:#666666;"><span style="display:inline-block;transform:scaleX(0.81)">7</span></div>
<div class="c" style="left:38.30px;top:387.59px;width:46.00px;height:10.38px;font-size:5.2px;color:#666666;"><span style="display:inline-block;transform:scaleX(0.81)">Seat Ring</span></div>
<div class="c" style="left:84.30px;top:387.59px;width:246.30px;height:10.38px;font-size:5.2px;color:#666666;"><span style="display:inline-block;transform:scaleX(0.81)">RPTFE or PCM</span></div>
<div class="abs" style="left:22.00px;top:398.00px;width:309.00px;height:11.00px;background:#ebebeb"></div>
<div class="abs" style="left:22.00px;top:408.00px;width:309.00px;height:1.00px;background:#cfcfcf"></div>
<div class="abs" style="left:38.00px;top:398.00px;width:1.00px;height:10.00px;background:#d4d4d4"></div>
<div class="abs" style="left:84.00px;top:398.00px;width:1.00px;height:10.00px;background:#d4d4d4"></div>
<div class="c" style="left:21.50px;top:397.98px;width:16.80px;height:10.38px;font-size:5.2px;color:#666666;"><span style="display:inline-block;transform:scaleX(0.81)">8</span></div>
<div class="c" style="left:38.30px;top:397.98px;width:46.00px;height:10.38px;font-size:5.2px;color:#666666;"><span style="display:inline-block;transform:scaleX(0.81)">Small spring</span></div>
<div class="c" style="left:84.30px;top:397.98px;width:246.30px;height:10.38px;font-size:5.2px;color:#666666;"><span style="display:inline-block;transform:scaleX(0.81)">Stainless Steel</span></div>
<div class="abs" style="left:22.00px;top:418.00px;width:309.00px;height:1.00px;background:#cfcfcf"></div>
<div class="abs" style="left:38.00px;top:409.00px;width:1.00px;height:9.00px;background:#d4d4d4"></div>
<div class="abs" style="left:84.00px;top:409.00px;width:1.00px;height:9.00px;background:#d4d4d4"></div>
<div class="c" style="left:21.50px;top:408.36px;width:16.80px;height:10.38px;font-size:5.2px;color:#666666;"><span style="display:inline-block;transform:scaleX(0.81)">9</span></div>
<div class="c" style="left:38.30px;top:408.36px;width:46.00px;height:10.38px;font-size:5.2px;color:#666666;"><span style="display:inline-block;transform:scaleX(0.81)">Small ball</span></div>
<div class="c" style="left:84.30px;top:408.36px;width:246.30px;height:10.38px;font-size:5.2px;color:#666666;"><span style="display:inline-block;transform:scaleX(0.81)">A182 F304 A182 F316L</span></div>
<div class="abs" style="left:22.00px;top:419.00px;width:309.00px;height:10.00px;background:#ebebeb"></div>
<div class="abs" style="left:22.00px;top:428.00px;width:309.00px;height:1.00px;background:#cfcfcf"></div>
<div class="abs" style="left:38.00px;top:419.00px;width:1.00px;height:9.00px;background:#d4d4d4"></div>
<div class="abs" style="left:84.00px;top:419.00px;width:1.00px;height:9.00px;background:#d4d4d4"></div>
<div class="c" style="left:21.50px;top:418.74px;width:16.80px;height:10.38px;font-size:5.2px;color:#666666;"><span style="display:inline-block;transform:scaleX(0.81)">10</span></div>
<div class="c" style="left:38.30px;top:418.74px;width:46.00px;height:10.38px;font-size:5.2px;color:#666666;"><span style="display:inline-block;transform:scaleX(0.81)">Stem</span></div>
<div class="c" style="left:84.30px;top:418.74px;width:40.90px;height:10.38px;font-size:5.2px;color:#666666;"><span style="display:inline-block;transform:scaleX(0.81)">A182 F6</span></div>
<div class="abs" style="left:125.00px;top:419.00px;width:1.00px;height:9.00px;background:#d4d4d4"></div>
<div class="c" style="left:125.20px;top:418.74px;width:41.50px;height:10.38px;font-size:5.2px;color:#666666;"><span style="display:inline-block;transform:scaleX(0.81)">A182 F6</span></div>
<div class="abs" style="left:167.00px;top:419.00px;width:1.00px;height:9.00px;background:#d4d4d4"></div>
<div class="c" style="left:166.70px;top:418.74px;width:41.00px;height:10.38px;font-size:5.2px;color:#666666;"><span style="display:inline-block;transform:scaleX(0.81)">A182 F304</span></div>
<div class="abs" style="left:208.00px;top:419.00px;width:1.00px;height:9.00px;background:#d4d4d4"></div>
<div class="c" style="left:207.70px;top:418.74px;width:40.60px;height:10.38px;font-size:5.2px;color:#666666;"><span style="display:inline-block;transform:scaleX(0.81)">A182 F316</span></div>
<div class="abs" style="left:248.00px;top:419.00px;width:1.00px;height:9.00px;background:#d4d4d4"></div>
<div class="c" style="left:248.30px;top:418.74px;width:41.10px;height:10.38px;font-size:5.2px;color:#666666;"><span style="display:inline-block;transform:scaleX(0.81)">A182 F304L</span></div>
<div class="abs" style="left:289.00px;top:419.00px;width:1.00px;height:9.00px;background:#d4d4d4"></div>
<div class="c" style="left:289.40px;top:418.74px;width:41.20px;height:10.38px;font-size:5.2px;color:#666666;"><span style="display:inline-block;transform:scaleX(0.81)">A182 F316L</span></div>
<div class="abs" style="left:22.00px;top:439.00px;width:309.00px;height:1.00px;background:#cfcfcf"></div>
<div class="abs" style="left:38.00px;top:429.00px;width:1.00px;height:10.00px;background:#d4d4d4"></div>
<div class="abs" style="left:84.00px;top:429.00px;width:1.00px;height:10.00px;background:#d4d4d4"></div>
<div class="c" style="left:21.50px;top:429.12px;width:16.80px;height:10.38px;font-size:5.2px;color:#666666;"><span style="display:inline-block;transform:scaleX(0.81)">11</span></div>
<div class="c" style="left:38.30px;top:429.12px;width:46.00px;height:10.38px;font-size:5.2px;color:#666666;"><span style="display:inline-block;transform:scaleX(0.81)">Stem Seat</span></div>
<div class="c" style="left:84.30px;top:429.12px;width:246.30px;height:10.38px;font-size:5.2px;color:#666666;"><span style="display:inline-block;transform:scaleX(0.81)">PTFE</span></div>
<div class="abs" style="left:22.00px;top:440.00px;width:309.00px;height:10.00px;background:#ebebeb"></div>
<div class="abs" style="left:22.00px;top:449.00px;width:309.00px;height:1.00px;background:#cfcfcf"></div>
<div class="abs" style="left:38.00px;top:440.00px;width:1.00px;height:9.00px;background:#d4d4d4"></div>
<div class="abs" style="left:84.00px;top:440.00px;width:1.00px;height:9.00px;background:#d4d4d4"></div>
<div class="c" style="left:21.50px;top:439.51px;width:16.80px;height:10.38px;font-size:5.2px;color:#666666;"><span style="display:inline-block;transform:scaleX(0.81)">12</span></div>
<div class="c" style="left:38.30px;top:439.51px;width:46.00px;height:10.38px;font-size:5.2px;color:#666666;"><span style="display:inline-block;transform:scaleX(0.81)">Stem Packing</span></div>
<div class="c" style="left:84.30px;top:439.51px;width:246.30px;height:10.38px;font-size:5.2px;color:#666666;"><span style="display:inline-block;transform:scaleX(0.81)">PTFE or Graphite</span></div>
<div class="abs" style="left:22.00px;top:459.00px;width:309.00px;height:1.00px;background:#cfcfcf"></div>
<div class="abs" style="left:38.00px;top:450.00px;width:1.00px;height:9.00px;background:#d4d4d4"></div>
<div class="abs" style="left:84.00px;top:450.00px;width:1.00px;height:9.00px;background:#d4d4d4"></div>
<div class="c" style="left:21.50px;top:449.89px;width:16.80px;height:10.38px;font-size:5.2px;color:#666666;"><span style="display:inline-block;transform:scaleX(0.81)">13</span></div>
<div class="c" style="left:38.30px;top:449.89px;width:46.00px;height:10.38px;font-size:5.2px;color:#666666;"><span style="display:inline-block;transform:scaleX(0.81)">Gland</span></div>
<div class="c" style="left:84.30px;top:449.89px;width:82.40px;height:10.38px;font-size:5.2px;color:#666666;"><span style="display:inline-block;transform:scaleX(0.81)">A182 F6</span></div>
<div class="abs" style="left:167.00px;top:450.00px;width:1.00px;height:9.00px;background:#d4d4d4"></div>
<div class="c" style="left:166.70px;top:449.89px;width:41.00px;height:10.38px;font-size:5.2px;color:#666666;"><span style="display:inline-block;transform:scaleX(0.81)">A182 F304</span></div>
<div class="abs" style="left:208.00px;top:450.00px;width:1.00px;height:9.00px;background:#d4d4d4"></div>
<div class="c" style="left:207.70px;top:449.89px;width:40.60px;height:10.38px;font-size:5.2px;color:#666666;"><span style="display:inline-block;transform:scaleX(0.81)">A182 F316</span></div>
<div class="abs" style="left:248.00px;top:450.00px;width:1.00px;height:9.00px;background:#d4d4d4"></div>
<div class="c" style="left:248.30px;top:449.89px;width:41.10px;height:10.38px;font-size:5.2px;color:#666666;"><span style="display:inline-block;transform:scaleX(0.81)">A182 F304L</span></div>
<div class="abs" style="left:289.00px;top:450.00px;width:1.00px;height:9.00px;background:#d4d4d4"></div>
<div class="c" style="left:289.40px;top:449.89px;width:41.20px;height:10.38px;font-size:5.2px;color:#666666;"><span style="display:inline-block;transform:scaleX(0.81)">A182 F316L</span></div>
<div class="abs" style="left:22.00px;top:460.00px;width:309.00px;height:11.00px;background:#ebebeb"></div>
<div class="abs" style="left:22.00px;top:470.00px;width:309.00px;height:1.00px;background:#cfcfcf"></div>
<div class="abs" style="left:38.00px;top:460.00px;width:1.00px;height:10.00px;background:#d4d4d4"></div>
<div class="abs" style="left:84.00px;top:460.00px;width:1.00px;height:10.00px;background:#d4d4d4"></div>
<div class="c" style="left:21.50px;top:460.27px;width:16.80px;height:10.38px;font-size:5.2px;color:#666666;"><span style="display:inline-block;transform:scaleX(0.81)">14</span></div>
<div class="c" style="left:38.30px;top:460.27px;width:46.00px;height:10.38px;font-size:5.2px;color:#666666;"><span style="display:inline-block;transform:scaleX(0.81)">Gland Bolt</span></div>
<div class="c" style="left:84.30px;top:460.27px;width:82.40px;height:10.38px;font-size:5.2px;color:#666666;"><span style="display:inline-block;transform:scaleX(0.81)">A193 B7</span></div>
<div class="abs" style="left:167.00px;top:460.00px;width:1.00px;height:10.00px;background:#d4d4d4"></div>
<div class="c" style="left:166.70px;top:460.27px;width:163.90px;height:10.38px;font-size:5.2px;color:#666666;"><span style="display:inline-block;transform:scaleX(0.81)">A193 B8</span></div>
<div class="abs" style="left:22.00px;top:480.00px;width:309.00px;height:1.00px;background:#cfcfcf"></div>
<div class="abs" style="left:38.00px;top:471.00px;width:1.00px;height:9.00px;background:#d4d4d4"></div>
<div class="abs" style="left:84.00px;top:471.00px;width:1.00px;height:9.00px;background:#d4d4d4"></div>
<div class="c" style="left:21.50px;top:470.65px;width:16.80px;height:10.38px;font-size:5.2px;color:#666666;"><span style="display:inline-block;transform:scaleX(0.81)">15</span></div>
<div class="c" style="left:38.30px;top:470.65px;width:46.00px;height:10.38px;font-size:5.2px;color:#666666;"><span style="display:inline-block;transform:scaleX(0.81)">Gland Flange</span></div>
<div class="c" style="left:84.30px;top:470.65px;width:82.40px;height:10.38px;font-size:5.2px;color:#666666;"><span style="display:inline-block;transform:scaleX(0.81)">A216 WCB</span></div>
<div class="abs" style="left:167.00px;top:471.00px;width:1.00px;height:9.00px;background:#d4d4d4"></div>
<div class="c" style="left:166.70px;top:470.65px;width:163.90px;height:10.38px;font-size:5.2px;color:#666666;"><span style="display:inline-block;transform:scaleX(0.81)">A351 CF8</span></div>
<div class="abs" style="left:22.00px;top:481.00px;width:309.00px;height:11.00px;background:#ebebeb"></div>
<div class="abs" style="left:22.00px;top:491.00px;width:309.00px;height:1.00px;background:#cfcfcf"></div>
<div class="abs" style="left:38.00px;top:481.00px;width:1.00px;height:10.00px;background:#d4d4d4"></div>
<div class="abs" style="left:84.00px;top:481.00px;width:1.00px;height:10.00px;background:#d4d4d4"></div>
<div class="c" style="left:21.50px;top:481.04px;width:16.80px;height:10.38px;font-size:5.2px;color:#666666;"><span style="display:inline-block;transform:scaleX(0.81)">16</span></div>
<div class="c" style="left:38.30px;top:481.04px;width:46.00px;height:10.38px;font-size:5.2px;color:#666666;"><span style="display:inline-block;transform:scaleX(0.81)">Positioning Plate</span></div>
<div class="c" style="left:84.30px;top:481.04px;width:246.30px;height:10.38px;font-size:5.2px;color:#666666;"><span style="display:inline-block;transform:scaleX(0.81)">Steel</span></div>
<div class="abs" style="left:22.00px;top:501.00px;width:309.00px;height:1.00px;background:#cfcfcf"></div>
<div class="abs" style="left:38.00px;top:492.00px;width:1.00px;height:9.00px;background:#d4d4d4"></div>
<div class="abs" style="left:84.00px;top:492.00px;width:1.00px;height:9.00px;background:#d4d4d4"></div>
<div class="c" style="left:21.50px;top:491.42px;width:16.80px;height:10.38px;font-size:5.2px;color:#666666;"><span style="display:inline-block;transform:scaleX(0.81)">17</span></div>
<div class="c" style="left:38.30px;top:491.42px;width:46.00px;height:10.38px;font-size:5.2px;color:#666666;"><span style="display:inline-block;transform:scaleX(0.81)">Wrench</span></div>
<div class="c" style="left:84.30px;top:491.42px;width:246.30px;height:10.38px;font-size:5.2px;color:#666666;"><span style="display:inline-block;transform:scaleX(0.81)">A216 WCB</span></div>
<div class="t" style="left:22.3px;top:505.6px;font-size:4.5px;line-height:1;color:#444;transform:scaleX(0.88)">The material is according to ASTM standard.</div>
<div class="abs" style="left:407.00px;top:122.00px;width:310.00px;height:8.00px;background:#acacac"></div>
<div class="abs" style="left:407.00px;top:122.00px;width:310.00px;height:1.00px;background:#7a7a7a"></div>
<div class="abs" style="left:407.00px;top:129.00px;width:310.00px;height:1.00px;background:#9a9a9a"></div>
<div class="c" style="left:407.30px;top:122.30px;width:309.30px;height:7.80px;font-size:4.9px;color:#fff;"><span style="display:inline-block;transform:scaleX(0.85)">CLASS 150</span></div>
<div class="abs" style="left:431.00px;top:137.00px;width:286.00px;height:7.00px;background:#ececec"></div>
<div class="abs" style="left:431.00px;top:151.00px;width:286.00px;height:7.00px;background:#ececec"></div>
<div class="abs" style="left:431.00px;top:165.00px;width:286.00px;height:7.00px;background:#ececec"></div>
<div class="abs" style="left:431.00px;top:180.00px;width:286.00px;height:7.00px;background:#ececec"></div>
<div class="abs" style="left:431.00px;top:194.00px;width:286.00px;height:7.00px;background:#ececec"></div>
<div class="abs" style="left:431.00px;top:208.00px;width:286.00px;height:7.00px;background:#ececec"></div>
<div class="abs" style="left:431.00px;top:222.00px;width:286.00px;height:8.00px;background:#ececec"></div>
<div class="abs" style="left:407.00px;top:136.00px;width:24.00px;height:1.00px;background:#c6c6c6"></div>
<div class="c" style="left:407.30px;top:129.60px;width:23.90px;height:7.14px;font-size:5.0px;color:#484848;"><span style="display:inline-block;transform:scaleX(0.8)">DN</span></div>
<div class="abs" style="left:407.00px;top:143.00px;width:24.00px;height:1.00px;background:#c6c6c6"></div>
<div class="c" style="left:407.30px;top:136.74px;width:23.90px;height:7.14px;font-size:5.0px;color:#484848;"><span style="display:inline-block;transform:scaleX(0.8)">NPS</span></div>
<div class="abs" style="left:407.00px;top:144.00px;width:24.00px;height:14.00px;background:#ececec"></div>
<div class="abs" style="left:407.00px;top:157.00px;width:24.00px;height:1.00px;background:#c6c6c6"></div>
<div class="c" style="left:407.30px;top:143.89px;width:23.90px;height:14.29px;font-size:5.0px;color:#484848;"><span style="display:inline-block;transform:scaleX(0.8)">L(RF)</span></div>
<div class="abs" style="left:407.00px;top:171.00px;width:24.00px;height:1.00px;background:#c6c6c6"></div>
<div class="c" style="left:407.30px;top:158.17px;width:23.90px;height:14.29px;font-size:5.0px;color:#484848;"><span style="display:inline-block;transform:scaleX(0.8)">L1(BW)</span></div>
<div class="abs" style="left:407.00px;top:172.00px;width:24.00px;height:15.00px;background:#ececec"></div>
<div class="abs" style="left:407.00px;top:186.00px;width:24.00px;height:1.00px;background:#c6c6c6"></div>
<div class="c" style="left:407.30px;top:172.46px;width:23.90px;height:14.29px;font-size:5.0px;color:#484848;"><span style="display:inline-block;transform:scaleX(0.8)">L2(RTJ)</span></div>
<div class="abs" style="left:407.00px;top:200.00px;width:24.00px;height:1.00px;background:#c6c6c6"></div>
<div class="c" style="left:407.30px;top:186.74px;width:23.90px;height:14.29px;font-size:5.0px;color:#484848;"><span style="display:inline-block;transform:scaleX(0.8)">H</span></div>
<div class="abs" style="left:407.00px;top:201.00px;width:24.00px;height:14.00px;background:#ececec"></div>
<div class="abs" style="left:407.00px;top:214.00px;width:24.00px;height:1.00px;background:#c6c6c6"></div>
<div class="c" style="left:407.30px;top:201.03px;width:23.90px;height:14.29px;font-size:5.0px;color:#484848;"><span style="display:inline-block;transform:scaleX(0.8)">Do(W)</span></div>
<div class="abs" style="left:407.00px;top:221.00px;width:24.00px;height:1.00px;background:#c6c6c6"></div>
<div class="c" style="left:407.30px;top:215.31px;width:23.90px;height:7.14px;font-size:5.0px;color:#484848;"><span style="display:inline-block;transform:scaleX(0.8)">RF(Kg)</span></div>
<div class="abs" style="left:407.00px;top:229.00px;width:24.00px;height:1.00px;background:#c6c6c6"></div>
<div class="c" style="left:407.30px;top:222.46px;width:23.90px;height:7.14px;font-size:5.0px;color:#484848;"><span style="display:inline-block;transform:scaleX(0.8)">BW(Kg)</span></div>
<div class="abs" style="left:431.00px;top:136.00px;width:286.00px;height:1.00px;background:#c6c6c6"></div>
<div class="c" style="left:431.20px;top:128.80px;width:23.40px;height:7.14px;font-size:5.0px;color:#666;"><span style="display:inline-block;transform:scaleX(0.95)">mm</span></div>
<div class="c" style="left:454.60px;top:129.60px;width:23.82px;height:7.14px;font-size:5.0px;color:#6a6a6a;"><span style="display:inline-block;transform:scaleX(0.8)">15</span></div>
<div class="c" style="left:478.42px;top:129.60px;width:23.82px;height:7.14px;font-size:5.0px;color:#6a6a6a;"><span style="display:inline-block;transform:scaleX(0.8)">20</span></div>
<div class="c" style="left:502.24px;top:129.60px;width:23.82px;height:7.14px;font-size:5.0px;color:#6a6a6a;"><span style="display:inline-block;transform:scaleX(0.8)">25</span></div>
<div class="c" style="left:526.05px;top:129.60px;width:23.82px;height:7.14px;font-size:5.0px;color:#6a6a6a;"><span style="display:inline-block;transform:scaleX(0.8)">40</span></div>
<div class="c" style="left:549.87px;top:129.60px;width:23.82px;height:7.14px;font-size:5.0px;color:#6a6a6a;"><span style="display:inline-block;transform:scaleX(0.8)">50</span></div>
<div class="c" style="left:573.69px;top:129.60px;width:23.82px;height:7.14px;font-size:5.0px;color:#6a6a6a;"><span style="display:inline-block;transform:scaleX(0.8)">65</span></div>
<div class="c" style="left:597.51px;top:129.60px;width:23.82px;height:7.14px;font-size:5.0px;color:#6a6a6a;"><span style="display:inline-block;transform:scaleX(0.8)">80</span></div>
<div class="c" style="left:621.33px;top:129.60px;width:23.82px;height:7.14px;font-size:5.0px;color:#6a6a6a;"><span style="display:inline-block;transform:scaleX(0.8)">100</span></div>
<div class="c" style="left:645.15px;top:129.60px;width:23.82px;height:7.14px;font-size:5.0px;color:#6a6a6a;"><span style="display:inline-block;transform:scaleX(0.8)">150</span></div>
<div class="c" style="left:668.96px;top:129.60px;width:23.82px;height:7.14px;font-size:5.0px;color:#6a6a6a;"><span style="display:inline-block;transform:scaleX(0.8)">200</span></div>
<div class="c" style="left:692.78px;top:129.60px;width:23.82px;height:7.14px;font-size:5.0px;color:#6a6a6a;"><span style="display:inline-block;transform:scaleX(0.8)">250</span></div>
<div class="abs" style="left:431.00px;top:143.00px;width:286.00px;height:1.00px;background:#c6c6c6"></div>
<div class="c" style="left:431.20px;top:135.94px;width:23.40px;height:7.14px;font-size:5.0px;color:#666;"><span style="display:inline-block;transform:scaleX(0.95)">in</span></div>
<div class="c" style="left:454.60px;top:136.74px;width:23.82px;height:7.14px;font-size:5.0px;color:#6a6a6a;"><span style="display:inline-block;transform:scaleX(0.8)">1/2</span></div>
<div class="c" style="left:478.42px;top:136.74px;width:23.82px;height:7.14px;font-size:5.0px;color:#6a6a6a;"><span style="display:inline-block;transform:scaleX(0.8)">3/4</span></div>
<div class="c" style="left:502.24px;top:136.74px;width:23.82px;height:7.14px;font-size:5.0px;color:#6a6a6a;"><span style="display:inline-block;transform:scaleX(0.8)">1</span></div>
<div class="c" style="left:526.05px;top:136.74px;width:23.82px;height:7.14px;font-size:5.0px;color:#6a6a6a;"><span style="display:inline-block;transform:scaleX(0.8)">11/2</span></div>
<div class="c" style="left:549.87px;top:136.74px;width:23.82px;height:7.14px;font-size:5.0px;color:#6a6a6a;"><span style="display:inline-block;transform:scaleX(0.8)">2</span></div>
<div class="c" style="left:573.69px;top:136.74px;width:23.82px;height:7.14px;font-size:5.0px;color:#6a6a6a;"><span style="display:inline-block;transform:scaleX(0.8)">21/2</span></div>
<div class="c" style="left:597.51px;top:136.74px;width:23.82px;height:7.14px;font-size:5.0px;color:#6a6a6a;"><span style="display:inline-block;transform:scaleX(0.8)">3</span></div>
<div class="c" style="left:621.33px;top:136.74px;width:23.82px;height:7.14px;font-size:5.0px;color:#6a6a6a;"><span style="display:inline-block;transform:scaleX(0.8)">4</span></div>
<div class="c" style="left:645.15px;top:136.74px;width:23.82px;height:7.14px;font-size:5.0px;color:#6a6a6a;"><span style="display:inline-block;transform:scaleX(0.8)">6</span></div>
<div class="c" style="left:668.96px;top:136.74px;width:23.82px;height:7.14px;font-size:5.0px;color:#6a6a6a;"><span style="display:inline-block;transform:scaleX(0.8)">8</span></div>
<div class="c" style="left:692.78px;top:136.74px;width:23.82px;height:7.14px;font-size:5.0px;color:#6a6a6a;"><span style="display:inline-block;transform:scaleX(0.8)">10</span></div>
<div class="abs" style="left:431.00px;top:150.00px;width:286.00px;height:1.00px;background:#c6c6c6"></div>
<div class="c" style="left:431.20px;top:143.09px;width:23.40px;height:7.14px;font-size:5.0px;color:#666;"><span style="display:inline-block;transform:scaleX(0.95)">mm</span></div>
<div class="c" style="left:454.60px;top:143.89px;width:23.82px;height:7.14px;font-size:5.0px;color:#6a6a6a;"><span style="display:inline-block;transform:scaleX(0.8)">108</span></div>
<div class="c" style="left:478.42px;top:143.89px;width:23.82px;height:7.14px;font-size:5.0px;color:#6a6a6a;"><span style="display:inline-block;transform:scaleX(0.8)">117</span></div>
<div class="c" style="left:502.24px;top:143.89px;width:23.82px;height:7.14px;font-size:5.0px;color:#6a6a6a;"><span style="display:inline-block;transform:scaleX(0.8)">127</span></div>
<div class="c" style="left:526.05px;top:143.89px;width:23.82px;height:7.14px;font-size:5.0px;color:#6a6a6a;"><span style="display:inline-block;transform:scaleX(0.8)">165</span></div>
<div class="c" style="left:549.87px;top:143.89px;width:23.82px;height:7.14px;font-size:5.0px;color:#6a6a6a;"><span style="display:inline-block;transform:scaleX(0.8)">178</span></div>
<div class="c" style="left:573.69px;top:143.89px;width:23.82px;height:7.14px;font-size:5.0px;color:#6a6a6a;"><span style="display:inline-block;transform:scaleX(0.8)">191</span></div>
<div class="c" style="left:597.51px;top:143.89px;width:23.82px;height:7.14px;font-size:5.0px;color:#6a6a6a;"><span style="display:inline-block;transform:scaleX(0.8)">203</span></div>
<div class="c" style="left:621.33px;top:143.89px;width:23.82px;height:7.14px;font-size:5.0px;color:#6a6a6a;"><span style="display:inline-block;transform:scaleX(0.8)">229</span></div>
<div class="c" style="left:645.15px;top:143.89px;width:23.82px;height:7.14px;font-size:5.0px;color:#6a6a6a;"><span style="display:inline-block;transform:scaleX(0.8)">394</span></div>
<div class="c" style="left:668.96px;top:143.89px;width:23.82px;height:7.14px;font-size:5.0px;color:#6a6a6a;"><span style="display:inline-block;transform:scaleX(0.8)">457</span></div>
<div class="c" style="left:692.78px;top:143.89px;width:23.82px;height:7.14px;font-size:5.0px;color:#6a6a6a;"><span style="display:inline-block;transform:scaleX(0.8)">533</span></div>
<div class="abs" style="left:431.00px;top:157.00px;width:286.00px;height:1.00px;background:#c6c6c6"></div>
<div class="c" style="left:431.20px;top:150.23px;width:23.40px;height:7.14px;font-size:5.0px;color:#666;"><span style="display:inline-block;transform:scaleX(0.95)">in</span></div>
<div class="c" style="left:454.60px;top:151.03px;width:23.82px;height:7.14px;font-size:5.0px;color:#6a6a6a;"><span style="display:inline-block;transform:scaleX(0.8)">4.25</span></div>
<div class="c" style="left:478.42px;top:151.03px;width:23.82px;height:7.14px;font-size:5.0px;color:#6a6a6a;"><span style="display:inline-block;transform:scaleX(0.8)">4.6</span></div>
<div class="c" style="left:502.24px;top:151.03px;width:23.82px;height:7.14px;font-size:5.0px;color:#6a6a6a;"><span style="display:inline-block;transform:scaleX(0.8)">5</span></div>
<div class="c" style="left:526.05px;top:151.03px;width:23.82px;height:7.14px;font-size:5.0px;color:#6a6a6a;"><span style="display:inline-block;transform:scaleX(0.8)">6.5</span></div>
<div class="c" style="left:549.87px;top:151.03px;width:23.82px;height:7.14px;font-size:5.0px;color:#6a6a6a;"><span style="display:inline-block;transform:scaleX(0.8)">7</span></div>
<div class="c" style="left:573.69px;top:151.03px;width:23.82px;height:7.14px;font-size:5.0px;color:#6a6a6a;"><span style="display:inline-block;transform:scaleX(0.8)">7.5</span></div>
<div class="c" style="left:597.51px;top:151.03px;width:23.82px;height:7.14px;font-size:5.0px;color:#6a6a6a;"><span style="display:inline-block;transform:scaleX(0.8)">8</span></div>
<div class="c" style="left:621.33px;top:151.03px;width:23.82px;height:7.14px;font-size:5.0px;color:#6a6a6a;"><span style="display:inline-block;transform:scaleX(0.8)">9</span></div>
<div class="c" style="left:645.15px;top:151.03px;width:23.82px;height:7.14px;font-size:5.0px;color:#6a6a6a;"><span style="display:inline-block;transform:scaleX(0.8)">15.5</span></div>
<div class="c" style="left:668.96px;top:151.03px;width:23.82px;height:7.14px;font-size:5.0px;color:#6a6a6a;"><span style="display:inline-block;transform:scaleX(0.8)">18</span></div>
<div class="c" style="left:692.78px;top:151.03px;width:23.82px;height:7.14px;font-size:5.0px;color:#6a6a6a;"><span style="display:inline-block;transform:scaleX(0.8)">21</span></div>
<div class="abs" style="left:431.00px;top:164.00px;width:286.00px;height:1.00px;background:#c6c6c6"></div>
<div class="c" style="left:431.20px;top:157.37px;width:23.40px;height:7.14px;font-size:5.0px;color:#666;"><span style="display:inline-block;transform:scaleX(0.95)">mm</span></div>
<div class="c" style="left:454.60px;top:158.17px;width:23.82px;height:7.14px;font-size:5.0px;color:#6a6a6a;"><span style="display:inline-block;transform:scaleX(0.8)">140</span></div>
<div class="c" style="left:478.42px;top:158.17px;width:23.82px;height:7.14px;font-size:5.0px;color:#6a6a6a;"><span style="display:inline-block;transform:scaleX(0.8)">152</span></div>
<div class="c" style="left:502.24px;top:158.17px;width:23.82px;height:7.14px;font-size:5.0px;color:#6a6a6a;"><span style="display:inline-block;transform:scaleX(0.8)">165</span></div>
<div class="c" style="left:526.05px;top:158.17px;width:23.82px;height:7.14px;font-size:5.0px;color:#6a6a6a;"><span style="display:inline-block;transform:scaleX(0.8)">190</span></div>
<div class="c" style="left:549.87px;top:158.17px;width:23.82px;height:7.14px;font-size:5.0px;color:#6a6a6a;"><span style="display:inline-block;transform:scaleX(0.8)">216</span></div>
<div class="c" style="left:573.69px;top:158.17px;width:23.82px;height:7.14px;font-size:5.0px;color:#6a6a6a;"><span style="display:inline-block;transform:scaleX(0.8)">241</span></div>
<div class="c" style="left:597.51px;top:158.17px;width:23.82px;height:7.14px;font-size:5.0px;color:#6a6a6a;"><span style="display:inline-block;transform:scaleX(0.8)">283</span></div>
<div class="c" style="left:621.33px;top:158.17px;width:23.82px;height:7.14px;font-size:5.0px;color:#6a6a6a;"><span style="display:inline-block;transform:scaleX(0.8)">305</span></div>
<div class="c" style="left:645.15px;top:158.17px;width:23.82px;height:7.14px;font-size:5.0px;color:#6a6a6a;"><span style="display:inline-block;transform:scaleX(0.8)">457</span></div>
<div class="c" style="left:668.96px;top:158.17px;width:23.82px;height:7.14px;font-size:5.0px;color:#6a6a6a;"><span style="display:inline-block;transform:scaleX(0.8)">521</span></div>
<div class="c" style="left:692.78px;top:158.17px;width:23.82px;height:7.14px;font-size:5.0px;color:#6a6a6a;"><span style="display:inline-block;transform:scaleX(0.8)">559</span></div>
<div class="abs" style="left:431.00px;top:171.00px;width:286.00px;height:1.00px;background:#c6c6c6"></div>
<div class="c" style="left:431.20px;top:164.51px;width:23.40px;height:7.14px;font-size:5.0px;color:#666;"><span style="display:inline-block;transform:scaleX(0.95)">in</span></div>
<div class="c" style="left:454.60px;top:165.31px;width:23.82px;height:7.14px;font-size:5.0px;color:#6a6a6a;"><span style="display:inline-block;transform:scaleX(0.8)">5.5</span></div>
<div class="c" style="left:478.42px;top:165.31px;width:23.82px;height:7.14px;font-size:5.0px;color:#6a6a6a;"><span style="display:inline-block;transform:scaleX(0.8)">6</span></div>
<div class="c" style="left:502.24px;top:165.31px;width:23.82px;height:7.14px;font-size:5.0px;color:#6a6a6a;"><span style="display:inline-block;transform:scaleX(0.8)">6.5</span></div>
<div class="c" style="left:526.05px;top:165.31px;width:23.82px;height:7.14px;font-size:5.0px;color:#6a6a6a;"><span style="display:inline-block;transform:scaleX(0.8)">7.48</span></div>
<div class="c" style="left:549.87px;top:165.31px;width:23.82px;height:7.14px;font-size:5.0px;color:#6a6a6a;"><span style="display:inline-block;transform:scaleX(0.8)">8.5</span></div>
<div class="c" style="left:573.69px;top:165.31px;width:23.82px;height:7.14px;font-size:5.0px;color:#6a6a6a;"><span style="display:inline-block;transform:scaleX(0.8)">9.5</span></div>
<div class="c" style="left:597.51px;top:165.31px;width:23.82px;height:7.14px;font-size:5.0px;color:#6a6a6a;"><span style="display:inline-block;transform:scaleX(0.8)">11.13</span></div>
<div class="c" style="left:621.33px;top:165.31px;width:23.82px;height:7.14px;font-size:5.0px;color:#6a6a6a;"><span style="display:inline-block;transform:scaleX(0.8)">12</span></div>
<div class="c" style="left:645.15px;top:165.31px;width:23.82px;height:7.14px;font-size:5.0px;color:#6a6a6a;"><span style="display:inline-block;transform:scaleX(0.8)">18</span></div>
<div class="c" style="left:668.96px;top:165.31px;width:23.82px;height:7.14px;font-size:5.0px;color:#6a6a6a;"><span style="display:inline-block;transform:scaleX(0.8)">20.5</span></div>
<div class="c" style="left:692.78px;top:165.31px;width:23.82px;height:7.14px;font-size:5.0px;color:#6a6a6a;"><span style="display:inline-block;transform:scaleX(0.8)">22</span></div>
<div class="abs" style="left:431.00px;top:179.00px;width:286.00px;height:1.00px;background:#c6c6c6"></div>
<div class="c" style="left:431.20px;top:171.66px;width:23.40px;height:7.14px;font-size:5.0px;color:#666;"><span style="display:inline-block;transform:scaleX(0.95)">mm</span></div>
<div class="c" style="left:454.60px;top:172.46px;width:23.82px;height:7.14px;font-size:5.0px;color:#6a6a6a;"><span style="display:inline-block;transform:scaleX(0.8)">119</span></div>
<div class="c" style="left:478.42px;top:172.46px;width:23.82px;height:7.14px;font-size:5.0px;color:#6a6a6a;"><span style="display:inline-block;transform:scaleX(0.8)">129.7</span></div>
<div class="c" style="left:502.24px;top:172.46px;width:23.82px;height:7.14px;font-size:5.0px;color:#6a6a6a;"><span style="display:inline-block;transform:scaleX(0.8)">139.7</span></div>
<div class="c" style="left:526.05px;top:172.46px;width:23.82px;height:7.14px;font-size:5.0px;color:#6a6a6a;"><span style="display:inline-block;transform:scaleX(0.8)">178</span></div>
<div class="c" style="left:549.87px;top:172.46px;width:23.82px;height:7.14px;font-size:5.0px;color:#6a6a6a;"><span style="display:inline-block;transform:scaleX(0.8)">191</span></div>
<div class="c" style="left:573.69px;top:172.46px;width:23.82px;height:7.14px;font-size:5.0px;color:#6a6a6a;"><span style="display:inline-block;transform:scaleX(0.8)">203</span></div>
<div class="c" style="left:597.51px;top:172.46px;width:23.82px;height:7.14px;font-size:5.0px;color:#6a6a6a;"><span style="display:inline-block;transform:scaleX(0.8)">216</span></div>
<div class="c" style="left:621.33px;top:172.46px;width:23.82px;height:7.14px;font-size:5.0px;color:#6a6a6a;"><span style="display:inline-block;transform:scaleX(0.8)">241</span></div>
<div class="c" style="left:645.15px;top:172.46px;width:23.82px;height:7.14px;font-size:5.0px;color:#6a6a6a;"><span style="display:inline-block;transform:scaleX(0.8)">406</span></div>
<div class="c" style="left:668.96px;top:172.46px;width:23.82px;height:7.14px;font-size:5.0px;color:#6a6a6a;"><span style="display:inline-block;transform:scaleX(0.8)">470</span></div>
<div class="c" style="left:692.78px;top:172.46px;width:23.82px;height:7.14px;font-size:5.0px;color:#6a6a6a;"><span style="display:inline-block;transform:scaleX(0.8)">546</span></div>
<div class="abs" style="left:431.00px;top:186.00px;width:286.00px;height:1.00px;background:#c6c6c6"></div>
<div class="c" style="left:431.20px;top:178.80px;width:23.40px;height:7.14px;font-size:5.0px;color:#666;"><span style="display:inline-block;transform:scaleX(0.95)">in</span></div>
<div class="c" style="left:454.60px;top:179.60px;width:23.82px;height:7.14px;font-size:5.0px;color:#6a6a6a;"><span style="display:inline-block;transform:scaleX(0.8)">4.69</span></div>
<div class="c" style="left:478.42px;top:179.60px;width:23.82px;height:7.14px;font-size:5.0px;color:#6a6a6a;"><span style="display:inline-block;transform:scaleX(0.8)">5.11</span></div>
<div class="c" style="left:502.24px;top:179.60px;width:23.82px;height:7.14px;font-size:5.0px;color:#6a6a6a;"><span style="display:inline-block;transform:scaleX(0.8)">5.5</span></div>
<div class="c" style="left:526.05px;top:179.60px;width:23.82px;height:7.14px;font-size:5.0px;color:#6a6a6a;"><span style="display:inline-block;transform:scaleX(0.8)">6.9</span></div>
<div class="c" style="left:549.87px;top:179.60px;width:23.82px;height:7.14px;font-size:5.0px;color:#6a6a6a;"><span style="display:inline-block;transform:scaleX(0.8)">7.5</span></div>
<div class="c" style="left:573.69px;top:179.60px;width:23.82px;height:7.14px;font-size:5.0px;color:#6a6a6a;"><span style="display:inline-block;transform:scaleX(0.8)">8</span></div>
<div class="c" style="left:597.51px;top:179.60px;width:23.82px;height:7.14px;font-size:5.0px;color:#6a6a6a;"><span style="display:inline-block;transform:scaleX(0.8)">8.5</span></div>
<div class="c" style="left:621.33px;top:179.60px;width:23.82px;height:7.14px;font-size:5.0px;color:#6a6a6a;"><span style="display:inline-block;transform:scaleX(0.8)">9.5</span></div>
<div class="c" style="left:645.15px;top:179.60px;width:23.82px;height:7.14px;font-size:5.0px;color:#6a6a6a;"><span style="display:inline-block;transform:scaleX(0.8)">16</span></div>
<div class="c" style="left:668.96px;top:179.60px;width:23.82px;height:7.14px;font-size:5.0px;color:#6a6a6a;"><span style="display:inline-block;transform:scaleX(0.8)">18.5</span></div>
<div class="c" style="left:692.78px;top:179.60px;width:23.82px;height:7.14px;font-size:5.0px;color:#6a6a6a;"><span style="display:inline-block;transform:scaleX(0.8)">21.5</span></div>
<div class="abs" style="left:431.00px;top:193.00px;width:286.00px;height:1.00px;background:#c6c6c6"></div>
<div class="c" style="left:431.20px;top:185.94px;width:23.40px;height:7.14px;font-size:5.0px;color:#666;"><span style="display:inline-block;transform:scaleX(0.95)">mm</span></div>
<div class="c" style="left:454.60px;top:186.74px;width:23.82px;height:7.14px;font-size:5.0px;color:#6a6a6a;"><span style="display:inline-block;transform:scaleX(0.8)">66</span></div>
<div class="c" style="left:478.42px;top:186.74px;width:23.82px;height:7.14px;font-size:5.0px;color:#6a6a6a;"><span style="display:inline-block;transform:scaleX(0.8)">74</span></div>
<div class="c" style="left:502.24px;top:186.74px;width:23.82px;height:7.14px;font-size:5.0px;color:#6a6a6a;"><span style="display:inline-block;transform:scaleX(0.8)">87</span></div>
<div class="c" style="left:526.05px;top:186.74px;width:23.82px;height:7.14px;font-size:5.0px;color:#6a6a6a;"><span style="display:inline-block;transform:scaleX(0.8)">105</span></div>
<div class="c" style="left:549.87px;top:186.74px;width:23.82px;height:7.14px;font-size:5.0px;color:#6a6a6a;"><span style="display:inline-block;transform:scaleX(0.8)">132</span></div>
<div class="c" style="left:573.69px;top:186.74px;width:23.82px;height:7.14px;font-size:5.0px;color:#6a6a6a;"><span style="display:inline-block;transform:scaleX(0.8)">152</span></div>
<div class="c" style="left:597.51px;top:186.74px;width:23.82px;height:7.14px;font-size:5.0px;color:#6a6a6a;"><span style="display:inline-block;transform:scaleX(0.8)">182</span></div>
<div class="c" style="left:621.33px;top:186.74px;width:23.82px;height:7.14px;font-size:5.0px;color:#6a6a6a;"><span style="display:inline-block;transform:scaleX(0.8)">215</span></div>
<div class="c" style="left:645.15px;top:186.74px;width:23.82px;height:7.14px;font-size:5.0px;color:#6a6a6a;"><span style="display:inline-block;transform:scaleX(0.8)">250</span></div>
<div class="c" style="left:668.96px;top:186.74px;width:23.82px;height:7.14px;font-size:5.0px;color:#6a6a6a;"><span style="display:inline-block;transform:scaleX(0.8)">285</span></div>
<div class="c" style="left:692.78px;top:186.74px;width:23.82px;height:7.14px;font-size:5.0px;color:#6a6a6a;"><span style="display:inline-block;transform:scaleX(0.8)">495</span></div>
<div class="abs" style="left:431.00px;top:200.00px;width:286.00px;height:1.00px;background:#c6c6c6"></div>
<div class="c" style="left:431.20px;top:193.09px;width:23.40px;height:7.14px;font-size:5.0px;color:#666;"><span style="display:inline-block;transform:scaleX(0.95)">in</span></div>
<div class="c" style="left:454.60px;top:193.89px;width:23.82px;height:7.14px;font-size:5.0px;color:#6a6a6a;"><span style="display:inline-block;transform:scaleX(0.8)">2.6</span></div>
<div class="c" style="left:478.42px;top:193.89px;width:23.82px;height:7.14px;font-size:5.0px;color:#6a6a6a;"><span style="display:inline-block;transform:scaleX(0.8)">2.9</span></div>
<div class="c" style="left:502.24px;top:193.89px;width:23.82px;height:7.14px;font-size:5.0px;color:#6a6a6a;"><span style="display:inline-block;transform:scaleX(0.8)">3.48</span></div>
<div class="c" style="left:526.05px;top:193.89px;width:23.82px;height:7.14px;font-size:5.0px;color:#6a6a6a;"><span style="display:inline-block;transform:scaleX(0.8)">4.2</span></div>
<div class="c" style="left:549.87px;top:193.89px;width:23.82px;height:7.14px;font-size:5.0px;color:#6a6a6a;"><span style="display:inline-block;transform:scaleX(0.8)">5.28</span></div>
<div class="c" style="left:573.69px;top:193.89px;width:23.82px;height:7.14px;font-size:5.0px;color:#6a6a6a;"><span style="display:inline-block;transform:scaleX(0.8)">6.08</span></div>
<div class="c" style="left:597.51px;top:193.89px;width:23.82px;height:7.14px;font-size:5.0px;color:#6a6a6a;"><span style="display:inline-block;transform:scaleX(0.8)">7.28</span></div>
<div class="c" style="left:621.33px;top:193.89px;width:23.82px;height:7.14px;font-size:5.0px;color:#6a6a6a;"><span style="display:inline-block;transform:scaleX(0.8)">8.6</span></div>
<div class="c" style="left:645.15px;top:193.89px;width:23.82px;height:7.14px;font-size:5.0px;color:#6a6a6a;"><span style="display:inline-block;transform:scaleX(0.8)">10</span></div>
<div class="c" style="left:668.96px;top:193.89px;width:23.82px;height:7.14px;font-size:5.0px;color:#6a6a6a;"><span style="display:inline-block;transform:scaleX(0.8)">11.4</span></div>
<div class="c" style="left:692.78px;top:193.89px;width:23.82px;height:7.14px;font-size:5.0px;color:#6a6a6a;"><span style="display:inline-block;transform:scaleX(0.8)">19.5</span></div>
<div class="abs" style="left:431.00px;top:207.00px;width:286.00px;height:1.00px;background:#c6c6c6"></div>
<div class="c" style="left:431.20px;top:200.23px;width:23.40px;height:7.14px;font-size:5.0px;color:#666;"><span style="display:inline-block;transform:scaleX(0.95)">mm</span></div>
<div class="c" style="left:454.60px;top:201.03px;width:23.82px;height:7.14px;font-size:5.0px;color:#6a6a6a;"><span style="display:inline-block;transform:scaleX(0.8)">130</span></div>
<div class="c" style="left:478.42px;top:201.03px;width:23.82px;height:7.14px;font-size:5.0px;color:#6a6a6a;"><span style="display:inline-block;transform:scaleX(0.8)">130</span></div>
<div class="c" style="left:502.24px;top:201.03px;width:23.82px;height:7.14px;font-size:5.0px;color:#6a6a6a;"><span style="display:inline-block;transform:scaleX(0.8)">160</span></div>
<div class="c" style="left:526.05px;top:201.03px;width:23.82px;height:7.14px;font-size:5.0px;color:#6a6a6a;"><span style="display:inline-block;transform:scaleX(0.8)">230</span></div>
<div class="c" style="left:549.87px;top:201.03px;width:23.82px;height:7.14px;font-size:5.0px;color:#6a6a6a;"><span style="display:inline-block;transform:scaleX(0.8)">400</span></div>
<div class="c" style="left:573.69px;top:201.03px;width:23.82px;height:7.14px;font-size:5.0px;color:#6a6a6a;"><span style="display:inline-block;transform:scaleX(0.8)">400</span></div>
<div class="c" style="left:597.51px;top:201.03px;width:23.82px;height:7.14px;font-size:5.0px;color:#6a6a6a;"><span style="display:inline-block;transform:scaleX(0.8)">600</span></div>
<div class="c" style="left:621.33px;top:201.03px;width:23.82px;height:7.14px;font-size:5.0px;color:#6a6a6a;"><span style="display:inline-block;transform:scaleX(0.8)">650</span></div>
<div class="c" style="left:645.15px;top:201.03px;width:23.82px;height:7.14px;font-size:5.0px;color:#6a6a6a;"><span style="display:inline-block;transform:scaleX(0.8)">1100</span></div>
<div class="c" style="left:668.96px;top:201.03px;width:23.82px;height:7.14px;font-size:5.0px;color:#6a6a6a;"><span style="display:inline-block;transform:scaleX(0.8)">1500</span></div>
<div class="c" style="left:692.78px;top:201.03px;width:23.82px;height:7.14px;font-size:5.0px;color:#6a6a6a;"><span style="display:inline-block;transform:scaleX(0.8)">*350</span></div>
<div class="abs" style="left:431.00px;top:214.00px;width:286.00px;height:1.00px;background:#c6c6c6"></div>
<div class="c" style="left:431.20px;top:207.37px;width:23.40px;height:7.14px;font-size:5.0px;color:#666;"><span style="display:inline-block;transform:scaleX(0.95)">in</span></div>
<div class="c" style="left:454.60px;top:208.17px;width:23.82px;height:7.14px;font-size:5.0px;color:#6a6a6a;"><span style="display:inline-block;transform:scaleX(0.8)">5.1</span></div>
<div class="c" style="left:478.42px;top:208.17px;width:23.82px;height:7.14px;font-size:5.0px;color:#6a6a6a;"><span style="display:inline-block;transform:scaleX(0.8)">5.1</span></div>
<div class="c" style="left:502.24px;top:208.17px;width:23.82px;height:7.14px;font-size:5.0px;color:#6a6a6a;"><span style="display:inline-block;transform:scaleX(0.8)">6.3</span></div>
<div class="c" style="left:526.05px;top:208.17px;width:23.82px;height:7.14px;font-size:5.0px;color:#6a6a6a;"><span style="display:inline-block;transform:scaleX(0.8)">9</span></div>
<div class="c" style="left:549.87px;top:208.17px;width:23.82px;height:7.14px;font-size:5.0px;color:#6a6a6a;"><span style="display:inline-block;transform:scaleX(0.8)">15.74</span></div>
<div class="c" style="left:573.69px;top:208.17px;width:23.82px;height:7.14px;font-size:5.0px;color:#6a6a6a;"><span style="display:inline-block;transform:scaleX(0.8)">15.74</span></div>
<div class="c" style="left:597.51px;top:208.17px;width:23.82px;height:7.14px;font-size:5.0px;color:#6a6a6a;"><span style="display:inline-block;transform:scaleX(0.8)">23.62</span></div>
<div class="c" style="left:621.33px;top:208.17px;width:23.82px;height:7.14px;font-size:5.0px;color:#6a6a6a;"><span style="display:inline-block;transform:scaleX(0.8)">33.46</span></div>
<div class="c" style="left:645.15px;top:208.17px;width:23.82px;height:7.14px;font-size:5.0px;color:#6a6a6a;"><span style="display:inline-block;transform:scaleX(0.8)">43.3</span></div>
<div class="c" style="left:668.96px;top:208.17px;width:23.82px;height:7.14px;font-size:5.0px;color:#6a6a6a;"><span style="display:inline-block;transform:scaleX(0.8)">59</span></div>
<div class="c" style="left:692.78px;top:208.17px;width:23.82px;height:7.14px;font-size:5.0px;color:#6a6a6a;"><span style="display:inline-block;transform:scaleX(0.8)">13.8</span></div>
<div class="abs" style="left:431.00px;top:221.00px;width:286.00px;height:1.00px;background:#c6c6c6"></div>
<div class="c" style="left:431.20px;top:214.51px;width:23.40px;height:7.14px;font-size:5.0px;color:#666;"><span style="display:inline-block;transform:scaleX(0.95)"></span></div>
<div class="c" style="left:454.60px;top:215.31px;width:23.82px;height:7.14px;font-size:5.0px;color:#6a6a6a;"><span style="display:inline-block;transform:scaleX(0.8)">2.3</span></div>
<div class="c" style="left:478.42px;top:215.31px;width:23.82px;height:7.14px;font-size:5.0px;color:#6a6a6a;"><span style="display:inline-block;transform:scaleX(0.8)">3</span></div>
<div class="c" style="left:502.24px;top:215.31px;width:23.82px;height:7.14px;font-size:5.0px;color:#6a6a6a;"><span style="display:inline-block;transform:scaleX(0.8)">4.5</span></div>
<div class="c" style="left:526.05px;top:215.31px;width:23.82px;height:7.14px;font-size:5.0px;color:#6a6a6a;"><span style="display:inline-block;transform:scaleX(0.8)">7</span></div>
<div class="c" style="left:549.87px;top:215.31px;width:23.82px;height:7.14px;font-size:5.0px;color:#6a6a6a;"><span style="display:inline-block;transform:scaleX(0.8)">15</span></div>
<div class="c" style="left:573.69px;top:215.31px;width:23.82px;height:7.14px;font-size:5.0px;color:#6a6a6a;"><span style="display:inline-block;transform:scaleX(0.8)">20</span></div>
<div class="c" style="left:597.51px;top:215.31px;width:23.82px;height:7.14px;font-size:5.0px;color:#6a6a6a;"><span style="display:inline-block;transform:scaleX(0.8)">25</span></div>
<div class="c" style="left:621.33px;top:215.31px;width:23.82px;height:7.14px;font-size:5.0px;color:#6a6a6a;"><span style="display:inline-block;transform:scaleX(0.8)">40</span></div>
<div class="c" style="left:645.15px;top:215.31px;width:23.82px;height:7.14px;font-size:5.0px;color:#6a6a6a;"><span style="display:inline-block;transform:scaleX(0.8)">97</span></div>
<div class="c" style="left:668.96px;top:215.31px;width:23.82px;height:7.14px;font-size:5.0px;color:#6a6a6a;"><span style="display:inline-block;transform:scaleX(0.8)">160</span></div>
<div class="c" style="left:692.78px;top:215.31px;width:23.82px;height:7.14px;font-size:5.0px;color:#6a6a6a;"><span style="display:inline-block;transform:scaleX(0.8)">240</span></div>
<div class="abs" style="left:431.00px;top:229.00px;width:286.00px;height:1.00px;background:#c6c6c6"></div>
<div class="c" style="left:431.20px;top:221.66px;width:23.40px;height:7.14px;font-size:5.0px;color:#666;"><span style="display:inline-block;transform:scaleX(0.95)"></span></div>
<div class="c" style="left:454.60px;top:222.46px;width:23.82px;height:7.14px;font-size:5.0px;color:#6a6a6a;"><span style="display:inline-block;transform:scaleX(0.8)">2.0</span></div>
<div class="c" style="left:478.42px;top:222.46px;width:23.82px;height:7.14px;font-size:5.0px;color:#6a6a6a;"><span style="display:inline-block;transform:scaleX(0.8)">2.5</span></div>
<div class="c" style="left:502.24px;top:222.46px;width:23.82px;height:7.14px;font-size:5.0px;color:#6a6a6a;"><span style="display:inline-block;transform:scaleX(0.8)">3.8</span></div>
<div class="c" style="left:526.05px;top:222.46px;width:23.82px;height:7.14px;font-size:5.0px;color:#6a6a6a;"><span style="display:inline-block;transform:scaleX(0.8)">5.8</span></div>
<div class="c" style="left:549.87px;top:222.46px;width:23.82px;height:7.14px;font-size:5.0px;color:#6a6a6a;"><span style="display:inline-block;transform:scaleX(0.8)">12</span></div>
<div class="c" style="left:573.69px;top:222.46px;width:23.82px;height:7.14px;font-size:5.0px;color:#6a6a6a;"><span style="display:inline-block;transform:scaleX(0.8)">17</span></div>
<div class="c" style="left:597.51px;top:222.46px;width:23.82px;height:7.14px;font-size:5.0px;color:#6a6a6a;"><span style="display:inline-block;transform:scaleX(0.8)">21</span></div>
<div class="c" style="left:621.33px;top:222.46px;width:23.82px;height:7.14px;font-size:5.0px;color:#6a6a6a;"><span style="display:inline-block;transform:scaleX(0.8)">36</span></div>
<div class="c" style="left:645.15px;top:222.46px;width:23.82px;height:7.14px;font-size:5.0px;color:#6a6a6a;"><span style="display:inline-block;transform:scaleX(0.8)">92.8</span></div>
<div class="c" style="left:668.96px;top:222.46px;width:23.82px;height:7.14px;font-size:5.0px;color:#6a6a6a;"><span style="display:inline-block;transform:scaleX(0.8)">154</span></div>
<div class="c" style="left:692.78px;top:222.46px;width:23.82px;height:7.14px;font-size:5.0px;color:#6a6a6a;"><span style="display:inline-block;transform:scaleX(0.8)">207</span></div>
<div class="abs" style="left:431.00px;top:130.00px;width:1.00px;height:100.00px;background:#d2d2d2"></div>
<div class="abs" style="left:455.00px;top:130.00px;width:1.00px;height:100.00px;background:#d2d2d2"></div>
<div class="abs" style="left:478.00px;top:130.00px;width:1.00px;height:100.00px;background:#d2d2d2"></div>
<div class="abs" style="left:502.00px;top:130.00px;width:1.00px;height:100.00px;background:#d2d2d2"></div>
<div class="abs" style="left:526.00px;top:130.00px;width:1.00px;height:100.00px;background:#d2d2d2"></div>
<div class="abs" style="left:550.00px;top:130.00px;width:1.00px;height:100.00px;background:#d2d2d2"></div>
<div class="abs" style="left:574.00px;top:130.00px;width:1.00px;height:100.00px;background:#d2d2d2"></div>
<div class="abs" style="left:598.00px;top:130.00px;width:1.00px;height:100.00px;background:#d2d2d2"></div>
<div class="abs" style="left:621.00px;top:130.00px;width:1.00px;height:100.00px;background:#d2d2d2"></div>
<div class="abs" style="left:645.00px;top:130.00px;width:1.00px;height:100.00px;background:#d2d2d2"></div>
<div class="abs" style="left:669.00px;top:130.00px;width:1.00px;height:100.00px;background:#d2d2d2"></div>
<div class="abs" style="left:693.00px;top:130.00px;width:1.00px;height:100.00px;background:#d2d2d2"></div>
<div class="abs" style="left:407.00px;top:254.00px;width:310.00px;height:8.00px;background:#acacac"></div>
<div class="abs" style="left:407.00px;top:254.00px;width:310.00px;height:1.00px;background:#7a7a7a"></div>
<div class="abs" style="left:407.00px;top:261.00px;width:310.00px;height:1.00px;background:#9a9a9a"></div>
<div class="c" style="left:407.30px;top:254.90px;width:309.30px;height:7.30px;font-size:4.9px;color:#fff;"><span style="display:inline-block;transform:scaleX(0.85)">CLASS 300</span></div>
<div class="abs" style="left:431.00px;top:269.00px;width:286.00px;height:7.00px;background:#ececec"></div>
<div class="abs" style="left:431.00px;top:283.00px;width:286.00px;height:7.00px;background:#ececec"></div>
<div class="abs" style="left:431.00px;top:298.00px;width:286.00px;height:7.00px;background:#ececec"></div>
<div class="abs" style="left:431.00px;top:312.00px;width:286.00px;height:7.00px;background:#ececec"></div>
<div class="abs" style="left:431.00px;top:326.00px;width:286.00px;height:8.00px;background:#ececec"></div>
<div class="abs" style="left:431.00px;top:341.00px;width:286.00px;height:7.00px;background:#ececec"></div>
<div class="abs" style="left:431.00px;top:355.00px;width:286.00px;height:7.00px;background:#ececec"></div>
<div class="abs" style="left:407.00px;top:268.00px;width:24.00px;height:1.00px;background:#c6c6c6"></div>
<div class="c" style="left:407.30px;top:261.70px;width:23.90px;height:7.20px;font-size:5.0px;color:#484848;"><span style="display:inline-block;transform:scaleX(0.8)">DN</span></div>
<div class="abs" style="left:407.00px;top:275.00px;width:24.00px;height:1.00px;background:#c6c6c6"></div>
<div class="c" style="left:407.30px;top:268.90px;width:23.90px;height:7.20px;font-size:5.0px;color:#484848;"><span style="display:inline-block;transform:scaleX(0.8)">NPS</span></div>
<div class="abs" style="left:407.00px;top:276.00px;width:24.00px;height:14.00px;background:#ececec"></div>
<div class="abs" style="left:407.00px;top:289.00px;width:24.00px;height:1.00px;background:#c6c6c6"></div>
<div class="c" style="left:407.30px;top:276.10px;width:23.90px;height:14.40px;font-size:5.0px;color:#484848;"><span style="display:inline-block;transform:scaleX(0.8)">L(RF)</span></div>
<div class="abs" style="left:407.00px;top:304.00px;width:24.00px;height:1.00px;background:#c6c6c6"></div>
<div class="c" style="left:407.30px;top:290.50px;width:23.90px;height:14.40px;font-size:5.0px;color:#484848;"><span style="display:inline-block;transform:scaleX(0.8)">L1(BW)</span></div>
<div class="abs" style="left:407.00px;top:305.00px;width:24.00px;height:14.00px;background:#ececec"></div>
<div class="abs" style="left:407.00px;top:318.00px;width:24.00px;height:1.00px;background:#c6c6c6"></div>
<div class="c" style="left:407.30px;top:304.90px;width:23.90px;height:14.40px;font-size:5.0px;color:#484848;"><span style="display:inline-block;transform:scaleX(0.8)">L2(RTJ)</span></div>
<div class="abs" style="left:407.00px;top:333.00px;width:24.00px;height:1.00px;background:#c6c6c6"></div>
<div class="c" style="left:407.30px;top:319.30px;width:23.90px;height:14.40px;font-size:5.0px;color:#484848;"><span style="display:inline-block;transform:scaleX(0.8)">H</span></div>
<div class="abs" style="left:407.00px;top:334.00px;width:24.00px;height:14.00px;background:#ececec"></div>
<div class="abs" style="left:407.00px;top:347.00px;width:24.00px;height:1.00px;background:#c6c6c6"></div>
<div class="c" style="left:407.30px;top:333.70px;width:23.90px;height:14.40px;font-size:5.0px;color:#484848;"><span style="display:inline-block;transform:scaleX(0.8)">Do(W)</span></div>
<div class="abs" style="left:407.00px;top:354.00px;width:24.00px;height:1.00px;background:#c6c6c6"></div>
<div class="c" style="left:407.30px;top:348.10px;width:23.90px;height:7.20px;font-size:5.0px;color:#484848;"><span style="display:inline-block;transform:scaleX(0.8)">RF(Kg)</span></div>
<div class="abs" style="left:407.00px;top:361.00px;width:24.00px;height:1.00px;background:#c6c6c6"></div>
<div class="c" style="left:407.30px;top:355.30px;width:23.90px;height:7.20px;font-size:5.0px;color:#484848;"><span style="display:inline-block;transform:scaleX(0.8)">BW(Kg)</span></div>
<div class="abs" style="left:431.00px;top:268.00px;width:286.00px;height:1.00px;background:#c6c6c6"></div>
<div class="c" style="left:431.20px;top:260.90px;width:23.40px;height:7.20px;font-size:5.0px;color:#666;"><span style="display:inline-block;transform:scaleX(0.95)">mm</span></div>
<div class="c" style="left:454.60px;top:261.70px;width:26.20px;height:7.20px;font-size:5.0px;color:#6a6a6a;"><span style="display:inline-block;transform:scaleX(0.8)">15</span></div>
<div class="c" style="left:480.80px;top:261.70px;width:26.20px;height:7.20px;font-size:5.0px;color:#6a6a6a;"><span style="display:inline-block;transform:scaleX(0.8)">20</span></div>
<div class="c" style="left:507.00px;top:261.70px;width:26.20px;height:7.20px;font-size:5.0px;color:#6a6a6a;"><span style="display:inline-block;transform:scaleX(0.8)">25</span></div>
<div class="c" style="left:533.20px;top:261.70px;width:26.20px;height:7.20px;font-size:5.0px;color:#6a6a6a;"><span style="display:inline-block;transform:scaleX(0.8)">40</span></div>
<div class="c" style="left:559.40px;top:261.70px;width:26.20px;height:7.20px;font-size:5.0px;color:#6a6a6a;"><span style="display:inline-block;transform:scaleX(0.8)">50</span></div>
<div class="c" style="left:585.60px;top:261.70px;width:26.20px;height:7.20px;font-size:5.0px;color:#6a6a6a;"><span style="display:inline-block;transform:scaleX(0.8)">65</span></div>
<div class="c" style="left:611.80px;top:261.70px;width:26.20px;height:7.20px;font-size:5.0px;color:#6a6a6a;"><span style="display:inline-block;transform:scaleX(0.8)">80</span></div>
<div class="c" style="left:638.00px;top:261.70px;width:26.20px;height:7.20px;font-size:5.0px;color:#6a6a6a;"><span style="display:inline-block;transform:scaleX(0.8)">100</span></div>
<div class="c" style="left:664.20px;top:261.70px;width:26.20px;height:7.20px;font-size:5.0px;color:#6a6a6a;"><span style="display:inline-block;transform:scaleX(0.8)">150</span></div>
<div class="c" style="left:690.40px;top:261.70px;width:26.20px;height:7.20px;font-size:5.0px;color:#6a6a6a;"><span style="display:inline-block;transform:scaleX(0.8)">200</span></div>
<div class="abs" style="left:431.00px;top:275.00px;width:286.00px;height:1.00px;background:#c6c6c6"></div>
<div class="c" style="left:431.20px;top:268.10px;width:23.40px;height:7.20px;font-size:5.0px;color:#666;"><span style="display:inline-block;transform:scaleX(0.95)">in</span></div>
<div class="c" style="left:454.60px;top:268.90px;width:26.20px;height:7.20px;font-size:5.0px;color:#6a6a6a;"><span style="display:inline-block;transform:scaleX(0.8)">1/2</span></div>
<div class="c" style="left:480.80px;top:268.90px;width:26.20px;height:7.20px;font-size:5.0px;color:#6a6a6a;"><span style="display:inline-block;transform:scaleX(0.8)">3/4</span></div>
<div class="c" style="left:507.00px;top:268.90px;width:26.20px;height:7.20px;font-size:5.0px;color:#6a6a6a;"><span style="display:inline-block;transform:scaleX(0.8)">1</span></div>
<div class="c" style="left:533.20px;top:268.90px;width:26.20px;height:7.20px;font-size:5.0px;color:#6a6a6a;"><span style="display:inline-block;transform:scaleX(0.8)">11/2</span></div>
<div class="c" style="left:559.40px;top:268.90px;width:26.20px;height:7.20px;font-size:5.0px;color:#6a6a6a;"><span style="display:inline-block;transform:scaleX(0.8)">2</span></div>
<div class="c" style="left:585.60px;top:268.90px;width:26.20px;height:7.20px;font-size:5.0px;color:#6a6a6a;"><span style="display:inline-block;transform:scaleX(0.8)">21/2</span></div>
<div class="c" style="left:611.80px;top:268.90px;width:26.20px;height:7.20px;font-size:5.0px;color:#6a6a6a;"><span style="display:inline-block;transform:scaleX(0.8)">3</span></div>
<div class="c" style="left:638.00px;top:268.90px;width:26.20px;height:7.20px;font-size:5.0px;color:#6a6a6a;"><span style="display:inline-block;transform:scaleX(0.8)">4</span></div>
<div class="c" style="left:664.20px;top:268.90px;width:26.20px;height:7.20px;font-size:5.0px;color:#6a6a6a;"><span style="display:inline-block;transform:scaleX(0.8)">6</span></div>
<div class="c" style="left:690.40px;top:268.90px;width:26.20px;height:7.20px;font-size:5.0px;color:#6a6a6a;"><span style="display:inline-block;transform:scaleX(0.8)">8</span></div>
<div class="abs" style="left:431.00px;top:282.00px;width:286.00px;height:1.00px;background:#c6c6c6"></div>
<div class="c" style="left:431.20px;top:275.30px;width:23.40px;height:7.20px;font-size:5.0px;color:#666;"><span style="display:inline-block;transform:scaleX(0.95)">mm</span></div>
<div class="c" style="left:454.60px;top:276.10px;width:26.20px;height:7.20px;font-size:5.0px;color:#6a6a6a;"><span style="display:inline-block;transform:scaleX(0.8)">140</span></div>
<div class="c" style="left:480.80px;top:276.10px;width:26.20px;height:7.20px;font-size:5.0px;color:#6a6a6a;"><span style="display:inline-block;transform:scaleX(0.8)">152</span></div>
<div class="c" style="left:507.00px;top:276.10px;width:26.20px;height:7.20px;font-size:5.0px;color:#6a6a6a;"><span style="display:inline-block;transform:scaleX(0.8)">165</span></div>
<div class="c" style="left:533.20px;top:276.10px;width:26.20px;height:7.20px;font-size:5.0px;color:#6a6a6a;"><span style="display:inline-block;transform:scaleX(0.8)">190</span></div>
<div class="c" style="left:559.40px;top:276.10px;width:26.20px;height:7.20px;font-size:5.0px;color:#6a6a6a;"><span style="display:inline-block;transform:scaleX(0.8)">216</span></div>
<div class="c" style="left:585.60px;top:276.10px;width:26.20px;height:7.20px;font-size:5.0px;color:#6a6a6a;"><span style="display:inline-block;transform:scaleX(0.8)">241</span></div>
<div class="c" style="left:611.80px;top:276.10px;width:26.20px;height:7.20px;font-size:5.0px;color:#6a6a6a;"><span style="display:inline-block;transform:scaleX(0.8)">283</span></div>
<div class="c" style="left:638.00px;top:276.10px;width:26.20px;height:7.20px;font-size:5.0px;color:#6a6a6a;"><span style="display:inline-block;transform:scaleX(0.8)">305</span></div>
<div class="c" style="left:664.20px;top:276.10px;width:26.20px;height:7.20px;font-size:5.0px;color:#6a6a6a;"><span style="display:inline-block;transform:scaleX(0.8)">403</span></div>
<div class="c" style="left:690.40px;top:276.10px;width:26.20px;height:7.20px;font-size:5.0px;color:#6a6a6a;"><span style="display:inline-block;transform:scaleX(0.8)">502</span></div>
<div class="abs" style="left:431.00px;top:289.00px;width:286.00px;height:1.00px;background:#c6c6c6"></div>
<div class="c" style="left:431.20px;top:282.50px;width:23.40px;height:7.20px;font-size:5.0px;color:#666;"><span style="display:inline-block;transform:scaleX(0.95)">in</span></div>
<div class="c" style="left:454.60px;top:283.30px;width:26.20px;height:7.20px;font-size:5.0px;color:#6a6a6a;"><span style="display:inline-block;transform:scaleX(0.8)">5.5</span></div>
<div class="c" style="left:480.80px;top:283.30px;width:26.20px;height:7.20px;font-size:5.0px;color:#6a6a6a;"><span style="display:inline-block;transform:scaleX(0.8)">5.98</span></div>
<div class="c" style="left:507.00px;top:283.30px;width:26.20px;height:7.20px;font-size:5.0px;color:#6a6a6a;"><span style="display:inline-block;transform:scaleX(0.8)">6.5</span></div>
<div class="c" style="left:533.20px;top:283.30px;width:26.20px;height:7.20px;font-size:5.0px;color:#6a6a6a;"><span style="display:inline-block;transform:scaleX(0.8)">7.48</span></div>
<div class="c" style="left:559.40px;top:283.30px;width:26.20px;height:7.20px;font-size:5.0px;color:#6a6a6a;"><span style="display:inline-block;transform:scaleX(0.8)">8.5</span></div>
<div class="c" style="left:585.60px;top:283.30px;width:26.20px;height:7.20px;font-size:5.0px;color:#6a6a6a;"><span style="display:inline-block;transform:scaleX(0.8)">8.5</span></div>
<div class="c" style="left:611.80px;top:283.30px;width:26.20px;height:7.20px;font-size:5.0px;color:#6a6a6a;"><span style="display:inline-block;transform:scaleX(0.8)">11.13</span></div>
<div class="c" style="left:638.00px;top:283.30px;width:26.20px;height:7.20px;font-size:5.0px;color:#6a6a6a;"><span style="display:inline-block;transform:scaleX(0.8)">12</span></div>
<div class="c" style="left:664.20px;top:283.30px;width:26.20px;height:7.20px;font-size:5.0px;color:#6a6a6a;"><span style="display:inline-block;transform:scaleX(0.8)">15.88</span></div>
<div class="c" style="left:690.40px;top:283.30px;width:26.20px;height:7.20px;font-size:5.0px;color:#6a6a6a;"><span style="display:inline-block;transform:scaleX(0.8)">19.75</span></div>
<div class="abs" style="left:431.00px;top:297.00px;width:286.00px;height:1.00px;background:#c6c6c6"></div>
<div class="c" style="left:431.20px;top:289.70px;width:23.40px;height:7.20px;font-size:5.0px;color:#666;"><span style="display:inline-block;transform:scaleX(0.95)">mm</span></div>
<div class="c" style="left:454.60px;top:290.50px;width:26.20px;height:7.20px;font-size:5.0px;color:#6a6a6a;"><span style="display:inline-block;transform:scaleX(0.8)">140</span></div>
<div class="c" style="left:480.80px;top:290.50px;width:26.20px;height:7.20px;font-size:5.0px;color:#6a6a6a;"><span style="display:inline-block;transform:scaleX(0.8)">152</span></div>
<div class="c" style="left:507.00px;top:290.50px;width:26.20px;height:7.20px;font-size:5.0px;color:#6a6a6a;"><span style="display:inline-block;transform:scaleX(0.8)">165</span></div>
<div class="c" style="left:533.20px;top:290.50px;width:26.20px;height:7.20px;font-size:5.0px;color:#6a6a6a;"><span style="display:inline-block;transform:scaleX(0.8)">190</span></div>
<div class="c" style="left:559.40px;top:290.50px;width:26.20px;height:7.20px;font-size:5.0px;color:#6a6a6a;"><span style="display:inline-block;transform:scaleX(0.8)">216</span></div>
<div class="c" style="left:585.60px;top:290.50px;width:26.20px;height:7.20px;font-size:5.0px;color:#6a6a6a;"><span style="display:inline-block;transform:scaleX(0.8)">241</span></div>
<div class="c" style="left:611.80px;top:290.50px;width:26.20px;height:7.20px;font-size:5.0px;color:#6a6a6a;"><span style="display:inline-block;transform:scaleX(0.8)">283</span></div>
<div class="c" style="left:638.00px;top:290.50px;width:26.20px;height:7.20px;font-size:5.0px;color:#6a6a6a;"><span style="display:inline-block;transform:scaleX(0.8)">305</span></div>
<div class="c" style="left:664.20px;top:290.50px;width:26.20px;height:7.20px;font-size:5.0px;color:#6a6a6a;"><span style="display:inline-block;transform:scaleX(0.8)">457</span></div>
<div class="c" style="left:690.40px;top:290.50px;width:26.20px;height:7.20px;font-size:5.0px;color:#6a6a6a;"><span style="display:inline-block;transform:scaleX(0.8)">521</span></div>
<div class="abs" style="left:431.00px;top:304.00px;width:286.00px;height:1.00px;background:#c6c6c6"></div>
<div class="c" style="left:431.20px;top:296.90px;width:23.40px;height:7.20px;font-size:5.0px;color:#666;"><span style="display:inline-block;transform:scaleX(0.95)">in</span></div>
<div class="c" style="left:454.60px;top:297.70px;width:26.20px;height:7.20px;font-size:5.0px;color:#6a6a6a;"><span style="display:inline-block;transform:scaleX(0.8)">5.5</span></div>
<div class="c" style="left:480.80px;top:297.70px;width:26.20px;height:7.20px;font-size:5.0px;color:#6a6a6a;"><span style="display:inline-block;transform:scaleX(0.8)">5.98</span></div>
<div class="c" style="left:507.00px;top:297.70px;width:26.20px;height:7.20px;font-size:5.0px;color:#6a6a6a;"><span style="display:inline-block;transform:scaleX(0.8)">6.5</span></div>
<div class="c" style="left:533.20px;top:297.70px;width:26.20px;height:7.20px;font-size:5.0px;color:#6a6a6a;"><span style="display:inline-block;transform:scaleX(0.8)">7.48</span></div>
<div class="c" style="left:559.40px;top:297.70px;width:26.20px;height:7.20px;font-size:5.0px;color:#6a6a6a;"><span style="display:inline-block;transform:scaleX(0.8)">8.5</span></div>
<div class="c" style="left:585.60px;top:297.70px;width:26.20px;height:7.20px;font-size:5.0px;color:#6a6a6a;"><span style="display:inline-block;transform:scaleX(0.8)">9.5</span></div>
<div class="c" style="left:611.80px;top:297.70px;width:26.20px;height:7.20px;font-size:5.0px;color:#6a6a6a;"><span style="display:inline-block;transform:scaleX(0.8)">11.13</span></div>
<div class="c" style="left:638.00px;top:297.70px;width:26.20px;height:7.20px;font-size:5.0px;color:#6a6a6a;"><span style="display:inline-block;transform:scaleX(0.8)">12</span></div>
<div class="c" style="left:664.20px;top:297.70px;width:26.20px;height:7.20px;font-size:5.0px;color:#6a6a6a;"><span style="display:inline-block;transform:scaleX(0.8)">18</span></div>
<div class="c" style="left:690.40px;top:297.70px;width:26.20px;height:7.20px;font-size:5.0px;color:#6a6a6a;"><span style="display:inline-block;transform:scaleX(0.8)">20.5</span></div>
<div class="abs" style="left:431.00px;top:311.00px;width:286.00px;height:1.00px;background:#c6c6c6"></div>
<div class="c" style="left:431.20px;top:304.10px;width:23.40px;height:7.20px;font-size:5.0px;color:#666;"><span style="display:inline-block;transform:scaleX(0.95)">mm</span></div>
<div class="c" style="left:454.60px;top:304.90px;width:26.20px;height:7.20px;font-size:5.0px;color:#6a6a6a;"><span style="display:inline-block;transform:scaleX(0.8)">151</span></div>
<div class="c" style="left:480.80px;top:304.90px;width:26.20px;height:7.20px;font-size:5.0px;color:#6a6a6a;"><span style="display:inline-block;transform:scaleX(0.8)">164.7</span></div>
<div class="c" style="left:507.00px;top:304.90px;width:26.20px;height:7.20px;font-size:5.0px;color:#6a6a6a;"><span style="display:inline-block;transform:scaleX(0.8)">177.7</span></div>
<div class="c" style="left:533.20px;top:304.90px;width:26.20px;height:7.20px;font-size:5.0px;color:#6a6a6a;"><span style="display:inline-block;transform:scaleX(0.8)">202.7</span></div>
<div class="c" style="left:559.40px;top:304.90px;width:26.20px;height:7.20px;font-size:5.0px;color:#6a6a6a;"><span style="display:inline-block;transform:scaleX(0.8)">232</span></div>
<div class="c" style="left:585.60px;top:304.90px;width:26.20px;height:7.20px;font-size:5.0px;color:#6a6a6a;"><span style="display:inline-block;transform:scaleX(0.8)">257</span></div>
<div class="c" style="left:611.80px;top:304.90px;width:26.20px;height:7.20px;font-size:5.0px;color:#6a6a6a;"><span style="display:inline-block;transform:scaleX(0.8)">298</span></div>
<div class="c" style="left:638.00px;top:304.90px;width:26.20px;height:7.20px;font-size:5.0px;color:#6a6a6a;"><span style="display:inline-block;transform:scaleX(0.8)">321</span></div>
<div class="c" style="left:664.20px;top:304.90px;width:26.20px;height:7.20px;font-size:5.0px;color:#6a6a6a;"><span style="display:inline-block;transform:scaleX(0.8)">419</span></div>
<div class="c" style="left:690.40px;top:304.90px;width:26.20px;height:7.20px;font-size:5.0px;color:#6a6a6a;"><span style="display:inline-block;transform:scaleX(0.8)">578</span></div>
<div class="abs" style="left:431.00px;top:318.00px;width:286.00px;height:1.00px;background:#c6c6c6"></div>
<div class="c" style="left:431.20px;top:311.30px;width:23.40px;height:7.20px;font-size:5.0px;color:#666;"><span style="display:inline-block;transform:scaleX(0.95)">in</span></div>
<div class="c" style="left:454.60px;top:312.10px;width:26.20px;height:7.20px;font-size:5.0px;color:#6a6a6a;"><span style="display:inline-block;transform:scaleX(0.8)">5.98</span></div>
<div class="c" style="left:480.80px;top:312.10px;width:26.20px;height:7.20px;font-size:5.0px;color:#6a6a6a;"><span style="display:inline-block;transform:scaleX(0.8)">6.48</span></div>
<div class="c" style="left:507.00px;top:312.10px;width:26.20px;height:7.20px;font-size:5.0px;color:#6a6a6a;"><span style="display:inline-block;transform:scaleX(0.8)">7</span></div>
<div class="c" style="left:533.20px;top:312.10px;width:26.20px;height:7.20px;font-size:5.0px;color:#6a6a6a;"><span style="display:inline-block;transform:scaleX(0.8)">8</span></div>
<div class="c" style="left:559.40px;top:312.10px;width:26.20px;height:7.20px;font-size:5.0px;color:#6a6a6a;"><span style="display:inline-block;transform:scaleX(0.8)">9.13</span></div>
<div class="c" style="left:585.60px;top:312.10px;width:26.20px;height:7.20px;font-size:5.0px;color:#6a6a6a;"><span style="display:inline-block;transform:scaleX(0.8)">10.13</span></div>
<div class="c" style="left:611.80px;top:312.10px;width:26.20px;height:7.20px;font-size:5.0px;color:#6a6a6a;"><span style="display:inline-block;transform:scaleX(0.8)">11.76</span></div>
<div class="c" style="left:638.00px;top:312.10px;width:26.20px;height:7.20px;font-size:5.0px;color:#6a6a6a;"><span style="display:inline-block;transform:scaleX(0.8)">12.63</span></div>
<div class="c" style="left:664.20px;top:312.10px;width:26.20px;height:7.20px;font-size:5.0px;color:#6a6a6a;"><span style="display:inline-block;transform:scaleX(0.8)">16.5</span></div>
<div class="c" style="left:690.40px;top:312.10px;width:26.20px;height:7.20px;font-size:5.0px;color:#6a6a6a;"><span style="display:inline-block;transform:scaleX(0.8)">20.38</span></div>
<div class="abs" style="left:431.00px;top:325.00px;width:286.00px;height:1.00px;background:#c6c6c6"></div>
<div class="c" style="left:431.20px;top:318.50px;width:23.40px;height:7.20px;font-size:5.0px;color:#666;"><span style="display:inline-block;transform:scaleX(0.95)">mm</span></div>
<div class="c" style="left:454.60px;top:319.30px;width:26.20px;height:7.20px;font-size:5.0px;color:#6a6a6a;"><span style="display:inline-block;transform:scaleX(0.8)">66</span></div>
<div class="c" style="left:480.80px;top:319.30px;width:26.20px;height:7.20px;font-size:5.0px;color:#6a6a6a;"><span style="display:inline-block;transform:scaleX(0.8)">74</span></div>
<div class="c" style="left:507.00px;top:319.30px;width:26.20px;height:7.20px;font-size:5.0px;color:#6a6a6a;"><span style="display:inline-block;transform:scaleX(0.8)">87</span></div>
<div class="c" style="left:533.20px;top:319.30px;width:26.20px;height:7.20px;font-size:5.0px;color:#6a6a6a;"><span style="display:inline-block;transform:scaleX(0.8)">105</span></div>
<div class="c" style="left:559.40px;top:319.30px;width:26.20px;height:7.20px;font-size:5.0px;color:#6a6a6a;"><span style="display:inline-block;transform:scaleX(0.8)">115</span></div>
<div class="c" style="left:585.60px;top:319.30px;width:26.20px;height:7.20px;font-size:5.0px;color:#6a6a6a;"><span style="display:inline-block;transform:scaleX(0.8)">158</span></div>
<div class="c" style="left:611.80px;top:319.30px;width:26.20px;height:7.20px;font-size:5.0px;color:#6a6a6a;"><span style="display:inline-block;transform:scaleX(0.8)">166</span></div>
<div class="c" style="left:638.00px;top:319.30px;width:26.20px;height:7.20px;font-size:5.0px;color:#6a6a6a;"><span style="display:inline-block;transform:scaleX(0.8)">183</span></div>
<div class="c" style="left:664.20px;top:319.30px;width:26.20px;height:7.20px;font-size:5.0px;color:#6a6a6a;"><span style="display:inline-block;transform:scaleX(0.8)">285</span></div>
<div class="c" style="left:690.40px;top:319.30px;width:26.20px;height:7.20px;font-size:5.0px;color:#6a6a6a;"><span style="display:inline-block;transform:scaleX(0.8)">294</span></div>
<div class="abs" style="left:431.00px;top:333.00px;width:286.00px;height:1.00px;background:#c6c6c6"></div>
<div class="c" style="left:431.20px;top:325.70px;width:23.40px;height:7.20px;font-size:5.0px;color:#666;"><span style="display:inline-block;transform:scaleX(0.95)">in</span></div>
<div class="c" style="left:454.60px;top:326.50px;width:26.20px;height:7.20px;font-size:5.0px;color:#6a6a6a;"><span style="display:inline-block;transform:scaleX(0.8)">2.6</span></div>
<div class="c" style="left:480.80px;top:326.50px;width:26.20px;height:7.20px;font-size:5.0px;color:#6a6a6a;"><span style="display:inline-block;transform:scaleX(0.8)">2.9</span></div>
<div class="c" style="left:507.00px;top:326.50px;width:26.20px;height:7.20px;font-size:5.0px;color:#6a6a6a;"><span style="display:inline-block;transform:scaleX(0.8)">3.48</span></div>
<div class="c" style="left:533.20px;top:326.50px;width:26.20px;height:7.20px;font-size:5.0px;color:#6a6a6a;"><span style="display:inline-block;transform:scaleX(0.8)">4.2</span></div>
<div class="c" style="left:559.40px;top:326.50px;width:26.20px;height:7.20px;font-size:5.0px;color:#6a6a6a;"><span style="display:inline-block;transform:scaleX(0.8)">4.6</span></div>
<div class="c" style="left:585.60px;top:326.50px;width:26.20px;height:7.20px;font-size:5.0px;color:#6a6a6a;"><span style="display:inline-block;transform:scaleX(0.8)">6.32</span></div>
<div class="c" style="left:611.80px;top:326.50px;width:26.20px;height:7.20px;font-size:5.0px;color:#6a6a6a;"><span style="display:inline-block;transform:scaleX(0.8)">6.64</span></div>
<div class="c" style="left:638.00px;top:326.50px;width:26.20px;height:7.20px;font-size:5.0px;color:#6a6a6a;"><span style="display:inline-block;transform:scaleX(0.8)">7.32</span></div>
<div class="c" style="left:664.20px;top:326.50px;width:26.20px;height:7.20px;font-size:5.0px;color:#6a6a6a;"><span style="display:inline-block;transform:scaleX(0.8)">11.4</span></div>
<div class="c" style="left:690.40px;top:326.50px;width:26.20px;height:7.20px;font-size:5.0px;color:#6a6a6a;"><span style="display:inline-block;transform:scaleX(0.8)">11.78</span></div>
<div class="abs" style="left:431.00px;top:340.00px;width:286.00px;height:1.00px;background:#c6c6c6"></div>
<div class="c" style="left:431.20px;top:332.90px;width:23.40px;height:7.20px;font-size:5.0px;color:#666;"><span style="display:inline-block;transform:scaleX(0.95)">mm</span></div>
<div class="c" style="left:454.60px;top:333.70px;width:26.20px;height:7.20px;font-size:5.0px;color:#6a6a6a;"><span style="display:inline-block;transform:scaleX(0.8)">130</span></div>
<div class="c" style="left:480.80px;top:333.70px;width:26.20px;height:7.20px;font-size:5.0px;color:#6a6a6a;"><span style="display:inline-block;transform:scaleX(0.8)">130</span></div>
<div class="c" style="left:507.00px;top:333.70px;width:26.20px;height:7.20px;font-size:5.0px;color:#6a6a6a;"><span style="display:inline-block;transform:scaleX(0.8)">160</span></div>
<div class="c" style="left:533.20px;top:333.70px;width:26.20px;height:7.20px;font-size:5.0px;color:#6a6a6a;"><span style="display:inline-block;transform:scaleX(0.8)">230</span></div>
<div class="c" style="left:559.40px;top:333.70px;width:26.20px;height:7.20px;font-size:5.0px;color:#6a6a6a;"><span style="display:inline-block;transform:scaleX(0.8)">400</span></div>
<div class="c" style="left:585.60px;top:333.70px;width:26.20px;height:7.20px;font-size:5.0px;color:#6a6a6a;"><span style="display:inline-block;transform:scaleX(0.8)">400</span></div>
<div class="c" style="left:611.80px;top:333.70px;width:26.20px;height:7.20px;font-size:5.0px;color:#6a6a6a;"><span style="display:inline-block;transform:scaleX(0.8)">600</span></div>
<div class="c" style="left:638.00px;top:333.70px;width:26.20px;height:7.20px;font-size:5.0px;color:#6a6a6a;"><span style="display:inline-block;transform:scaleX(0.8)">850</span></div>
<div class="c" style="left:664.20px;top:333.70px;width:26.20px;height:7.20px;font-size:5.0px;color:#6a6a6a;"><span style="display:inline-block;transform:scaleX(0.8)">1100</span></div>
<div class="c" style="left:690.40px;top:333.70px;width:26.20px;height:7.20px;font-size:5.0px;color:#6a6a6a;"><span style="display:inline-block;transform:scaleX(0.8)">1500</span></div>
<div class="abs" style="left:431.00px;top:347.00px;width:286.00px;height:1.00px;background:#c6c6c6"></div>
<div class="c" style="left:431.20px;top:340.10px;width:23.40px;height:7.20px;font-size:5.0px;color:#666;"><span style="display:inline-block;transform:scaleX(0.95)">in</span></div>
<div class="c" style="left:454.60px;top:340.90px;width:26.20px;height:7.20px;font-size:5.0px;color:#6a6a6a;"><span style="display:inline-block;transform:scaleX(0.8)">5.1</span></div>
<div class="c" style="left:480.80px;top:340.90px;width:26.20px;height:7.20px;font-size:5.0px;color:#6a6a6a;"><span style="display:inline-block;transform:scaleX(0.8)">5.1</span></div>
<div class="c" style="left:507.00px;top:340.90px;width:26.20px;height:7.20px;font-size:5.0px;color:#6a6a6a;"><span style="display:inline-block;transform:scaleX(0.8)">6.3</span></div>
<div class="c" style="left:533.20px;top:340.90px;width:26.20px;height:7.20px;font-size:5.0px;color:#6a6a6a;"><span style="display:inline-block;transform:scaleX(0.8)">9</span></div>
<div class="c" style="left:559.40px;top:340.90px;width:26.20px;height:7.20px;font-size:5.0px;color:#6a6a6a;"><span style="display:inline-block;transform:scaleX(0.8)">15.74</span></div>
<div class="c" style="left:585.60px;top:340.90px;width:26.20px;height:7.20px;font-size:5.0px;color:#6a6a6a;"><span style="display:inline-block;transform:scaleX(0.8)">15.74</span></div>
<div class="c" style="left:611.80px;top:340.90px;width:26.20px;height:7.20px;font-size:5.0px;color:#6a6a6a;"><span style="display:inline-block;transform:scaleX(0.8)">23.62</span></div>
<div class="c" style="left:638.00px;top:340.90px;width:26.20px;height:7.20px;font-size:5.0px;color:#6a6a6a;"><span style="display:inline-block;transform:scaleX(0.8)">33.46</span></div>
<div class="c" style="left:664.20px;top:340.90px;width:26.20px;height:7.20px;font-size:5.0px;color:#6a6a6a;"><span style="display:inline-block;transform:scaleX(0.8)">43.3</span></div>
<div class="c" style="left:690.40px;top:340.90px;width:26.20px;height:7.20px;font-size:5.0px;color:#6a6a6a;"><span style="display:inline-block;transform:scaleX(0.8)">59</span></div>
<div class="abs" style="left:431.00px;top:354.00px;width:286.00px;height:1.00px;background:#c6c6c6"></div>
<div class="c" style="left:431.20px;top:347.30px;width:23.40px;height:7.20px;font-size:5.0px;color:#666;"><span style="display:inline-block;transform:scaleX(0.95)"></span></div>
<div class="c" style="left:454.60px;top:348.10px;width:26.20px;height:7.20px;font-size:5.0px;color:#6a6a6a;"><span style="display:inline-block;transform:scaleX(0.8)">2.5</span></div>
<div class="c" style="left:480.80px;top:348.10px;width:26.20px;height:7.20px;font-size:5.0px;color:#6a6a6a;"><span style="display:inline-block;transform:scaleX(0.8)">3.5</span></div>
<div class="c" style="left:507.00px;top:348.10px;width:26.20px;height:7.20px;font-size:5.0px;color:#6a6a6a;"><span style="display:inline-block;transform:scaleX(0.8)">5.5</span></div>
<div class="c" style="left:533.20px;top:348.10px;width:26.20px;height:7.20px;font-size:5.0px;color:#6a6a6a;"><span style="display:inline-block;transform:scaleX(0.8)">10.5</span></div>
<div class="c" style="left:559.40px;top:348.10px;width:26.20px;height:7.20px;font-size:5.0px;color:#6a6a6a;"><span style="display:inline-block;transform:scaleX(0.8)">20</span></div>
<div class="c" style="left:585.60px;top:348.10px;width:26.20px;height:7.20px;font-size:5.0px;color:#6a6a6a;"><span style="display:inline-block;transform:scaleX(0.8)">25</span></div>
<div class="c" style="left:611.80px;top:348.10px;width:26.20px;height:7.20px;font-size:5.0px;color:#6a6a6a;"><span style="display:inline-block;transform:scaleX(0.8)">31</span></div>
<div class="c" style="left:638.00px;top:348.10px;width:26.20px;height:7.20px;font-size:5.0px;color:#6a6a6a;"><span style="display:inline-block;transform:scaleX(0.8)">52</span></div>
<div class="c" style="left:664.20px;top:348.10px;width:26.20px;height:7.20px;font-size:5.0px;color:#6a6a6a;"><span style="display:inline-block;transform:scaleX(0.8)">118</span></div>
<div class="c" style="left:690.40px;top:348.10px;width:26.20px;height:7.20px;font-size:5.0px;color:#6a6a6a;"><span style="display:inline-block;transform:scaleX(0.8)">200</span></div>
<div class="abs" style="left:431.00px;top:361.00px;width:286.00px;height:1.00px;background:#c6c6c6"></div>
<div class="c" style="left:431.20px;top:354.50px;width:23.40px;height:7.20px;font-size:5.0px;color:#666;"><span style="display:inline-block;transform:scaleX(0.95)"></span></div>
<div class="c" style="left:454.60px;top:355.30px;width:26.20px;height:7.20px;font-size:5.0px;color:#6a6a6a;"><span style="display:inline-block;transform:scaleX(0.8)">2.1</span></div>
<div class="c" style="left:480.80px;top:355.30px;width:26.20px;height:7.20px;font-size:5.0px;color:#6a6a6a;"><span style="display:inline-block;transform:scaleX(0.8)">3</span></div>
<div class="c" style="left:507.00px;top:355.30px;width:26.20px;height:7.20px;font-size:5.0px;color:#6a6a6a;"><span style="display:inline-block;transform:scaleX(0.8)">4.8</span></div>
<div class="c" style="left:533.20px;top:355.30px;width:26.20px;height:7.20px;font-size:5.0px;color:#6a6a6a;"><span style="display:inline-block;transform:scaleX(0.8)">8.7</span></div>
<div class="c" style="left:559.40px;top:355.30px;width:26.20px;height:7.20px;font-size:5.0px;color:#6a6a6a;"><span style="display:inline-block;transform:scaleX(0.8)">17</span></div>
<div class="c" style="left:585.60px;top:355.30px;width:26.20px;height:7.20px;font-size:5.0px;color:#6a6a6a;"><span style="display:inline-block;transform:scaleX(0.8)">22</span></div>
<div class="c" style="left:611.80px;top:355.30px;width:26.20px;height:7.20px;font-size:5.0px;color:#6a6a6a;"><span style="display:inline-block;transform:scaleX(0.8)">28</span></div>
<div class="c" style="left:638.00px;top:355.30px;width:26.20px;height:7.20px;font-size:5.0px;color:#6a6a6a;"><span style="display:inline-block;transform:scaleX(0.8)">48</span></div>
<div class="c" style="left:664.20px;top:355.30px;width:26.20px;height:7.20px;font-size:5.0px;color:#6a6a6a;"><span style="display:inline-block;transform:scaleX(0.8)">105</span></div>
<div class="c" style="left:690.40px;top:355.30px;width:26.20px;height:7.20px;font-size:5.0px;color:#6a6a6a;"><span style="display:inline-block;transform:scaleX(0.8)">185</span></div>
<div class="abs" style="left:431.00px;top:262.00px;width:1.00px;height:100.00px;background:#d2d2d2"></div>
<div class="abs" style="left:455.00px;top:262.00px;width:1.00px;height:100.00px;background:#d2d2d2"></div>
<div class="abs" style="left:481.00px;top:262.00px;width:1.00px;height:100.00px;background:#d2d2d2"></div>
<div class="abs" style="left:507.00px;top:262.00px;width:1.00px;height:100.00px;background:#d2d2d2"></div>
<div class="abs" style="left:533.00px;top:262.00px;width:1.00px;height:100.00px;background:#d2d2d2"></div>
<div class="abs" style="left:559.00px;top:262.00px;width:1.00px;height:100.00px;background:#d2d2d2"></div>
<div class="abs" style="left:586.00px;top:262.00px;width:1.00px;height:100.00px;background:#d2d2d2"></div>
<div class="abs" style="left:612.00px;top:262.00px;width:1.00px;height:100.00px;background:#d2d2d2"></div>
<div class="abs" style="left:638.00px;top:262.00px;width:1.00px;height:100.00px;background:#d2d2d2"></div>
<div class="abs" style="left:664.00px;top:262.00px;width:1.00px;height:100.00px;background:#d2d2d2"></div>
<div class="abs" style="left:690.00px;top:262.00px;width:1.00px;height:100.00px;background:#d2d2d2"></div>
<div class="abs" style="left:407.00px;top:386.00px;width:310.00px;height:8.00px;background:#acacac"></div>
<div class="abs" style="left:407.00px;top:386.00px;width:310.00px;height:1.00px;background:#7a7a7a"></div>
<div class="abs" style="left:407.00px;top:393.00px;width:310.00px;height:1.00px;background:#9a9a9a"></div>
<div class="c" style="left:407.30px;top:386.50px;width:309.30px;height:8.00px;font-size:4.9px;color:#fff;"><span style="display:inline-block;transform:scaleX(0.85)">CLASS 600</span></div>
<div class="abs" style="left:431.00px;top:401.00px;width:286.00px;height:7.00px;background:#ececec"></div>
<div class="abs" style="left:431.00px;top:416.00px;width:286.00px;height:7.00px;background:#ececec"></div>
<div class="abs" style="left:431.00px;top:430.00px;width:286.00px;height:7.00px;background:#ececec"></div>
<div class="abs" style="left:431.00px;top:445.00px;width:286.00px;height:7.00px;background:#ececec"></div>
<div class="abs" style="left:431.00px;top:459.00px;width:286.00px;height:7.00px;background:#ececec"></div>
<div class="abs" style="left:431.00px;top:474.00px;width:286.00px;height:7.00px;background:#ececec"></div>
<div class="abs" style="left:431.00px;top:488.00px;width:286.00px;height:7.00px;background:#ececec"></div>
<div class="abs" style="left:407.00px;top:400.00px;width:24.00px;height:1.00px;background:#c6c6c6"></div>
<div class="c" style="left:407.30px;top:394.00px;width:23.90px;height:7.24px;font-size:5.0px;color:#484848;"><span style="display:inline-block;transform:scaleX(0.8)">DN</span></div>
<div class="abs" style="left:407.00px;top:407.00px;width:24.00px;height:1.00px;background:#c6c6c6"></div>
<div class="c" style="left:407.30px;top:401.24px;width:23.90px;height:7.24px;font-size:5.0px;color:#484848;"><span style="display:inline-block;transform:scaleX(0.8)">NPS</span></div>
<div class="abs" style="left:407.00px;top:408.00px;width:24.00px;height:15.00px;background:#ececec"></div>
<div class="abs" style="left:407.00px;top:422.00px;width:24.00px;height:1.00px;background:#c6c6c6"></div>
<div class="c" style="left:407.30px;top:408.47px;width:23.90px;height:14.47px;font-size:5.0px;color:#484848;"><span style="display:inline-block;transform:scaleX(0.8)">L(RF)</span></div>
<div class="abs" style="left:407.00px;top:436.00px;width:24.00px;height:1.00px;background:#c6c6c6"></div>
<div class="c" style="left:407.30px;top:422.94px;width:23.90px;height:14.47px;font-size:5.0px;color:#484848;"><span style="display:inline-block;transform:scaleX(0.8)">L1(BW)</span></div>
<div class="abs" style="left:407.00px;top:437.00px;width:24.00px;height:15.00px;background:#ececec"></div>
<div class="abs" style="left:407.00px;top:451.00px;width:24.00px;height:1.00px;background:#c6c6c6"></div>
<div class="c" style="left:407.30px;top:437.41px;width:23.90px;height:14.47px;font-size:5.0px;color:#484848;"><span style="display:inline-block;transform:scaleX(0.8)">L2(RTJ)</span></div>
<div class="abs" style="left:407.00px;top:465.00px;width:24.00px;height:1.00px;background:#c6c6c6"></div>
<div class="c" style="left:407.30px;top:451.89px;width:23.90px;height:14.47px;font-size:5.0px;color:#484848;"><span style="display:inline-block;transform:scaleX(0.8)">H</span></div>
<div class="abs" style="left:407.00px;top:466.00px;width:24.00px;height:15.00px;background:#ececec"></div>
<div class="abs" style="left:407.00px;top:480.00px;width:24.00px;height:1.00px;background:#c6c6c6"></div>
<div class="c" style="left:407.30px;top:466.36px;width:23.90px;height:14.47px;font-size:5.0px;color:#484848;"><span style="display:inline-block;transform:scaleX(0.8)">Do(W)</span></div>
<div class="abs" style="left:407.00px;top:487.00px;width:24.00px;height:1.00px;background:#c6c6c6"></div>
<div class="c" style="left:407.30px;top:480.83px;width:23.90px;height:7.24px;font-size:5.0px;color:#484848;"><span style="display:inline-block;transform:scaleX(0.8)">RF(Kg)</span></div>
<div class="abs" style="left:407.00px;top:494.00px;width:24.00px;height:1.00px;background:#c6c6c6"></div>
<div class="c" style="left:407.30px;top:488.06px;width:23.90px;height:7.24px;font-size:5.0px;color:#484848;"><span style="display:inline-block;transform:scaleX(0.8)">BW(Kg)</span></div>
<div class="abs" style="left:431.00px;top:400.00px;width:286.00px;height:1.00px;background:#c6c6c6"></div>
<div class="c" style="left:431.20px;top:393.20px;width:23.40px;height:7.24px;font-size:5.0px;color:#666;"><span style="display:inline-block;transform:scaleX(0.95)">mm</span></div>
<div class="c" style="left:454.60px;top:394.00px;width:37.43px;height:7.24px;font-size:5.0px;color:#6a6a6a;"><span style="display:inline-block;transform:scaleX(0.8)">15</span></div>
<div class="c" style="left:492.03px;top:394.00px;width:37.43px;height:7.24px;font-size:5.0px;color:#6a6a6a;"><span style="display:inline-block;transform:scaleX(0.8)">20</span></div>
<div class="c" style="left:529.46px;top:394.00px;width:37.43px;height:7.24px;font-size:5.0px;color:#6a6a6a;"><span style="display:inline-block;transform:scaleX(0.8)">25</span></div>
<div class="c" style="left:566.89px;top:394.00px;width:37.43px;height:7.24px;font-size:5.0px;color:#6a6a6a;"><span style="display:inline-block;transform:scaleX(0.8)">40</span></div>
<div class="c" style="left:604.31px;top:394.00px;width:37.43px;height:7.24px;font-size:5.0px;color:#6a6a6a;"><span style="display:inline-block;transform:scaleX(0.8)">50</span></div>
<div class="c" style="left:641.74px;top:394.00px;width:37.43px;height:7.24px;font-size:5.0px;color:#6a6a6a;"><span style="display:inline-block;transform:scaleX(0.8)">65</span></div>
<div class="c" style="left:679.17px;top:394.00px;width:37.43px;height:7.24px;font-size:5.0px;color:#6a6a6a;"><span style="display:inline-block;transform:scaleX(0.8)">80</span></div>
<div class="abs" style="left:431.00px;top:407.00px;width:286.00px;height:1.00px;background:#c6c6c6"></div>
<div class="c" style="left:431.20px;top:400.44px;width:23.40px;height:7.24px;font-size:5.0px;color:#666;"><span style="display:inline-block;transform:scaleX(0.95)">in</span></div>
<div class="c" style="left:454.60px;top:401.24px;width:37.43px;height:7.24px;font-size:5.0px;color:#6a6a6a;"><span style="display:inline-block;transform:scaleX(0.8)">1/2</span></div>
<div class="c" style="left:492.03px;top:401.24px;width:37.43px;height:7.24px;font-size:5.0px;color:#6a6a6a;"><span style="display:inline-block;transform:scaleX(0.8)">3/4</span></div>
<div class="c" style="left:529.46px;top:401.24px;width:37.43px;height:7.24px;font-size:5.0px;color:#6a6a6a;"><span style="display:inline-block;transform:scaleX(0.8)">1</span></div>
<div class="c" style="left:566.89px;top:401.24px;width:37.43px;height:7.24px;font-size:5.0px;color:#6a6a6a;"><span style="display:inline-block;transform:scaleX(0.8)">11/2</span></div>
<div class="c" style="left:604.31px;top:401.24px;width:37.43px;height:7.24px;font-size:5.0px;color:#6a6a6a;"><span style="display:inline-block;transform:scaleX(0.8)">2</span></div>
<div class="c" style="left:641.74px;top:401.24px;width:37.43px;height:7.24px;font-size:5.0px;color:#6a6a6a;"><span style="display:inline-block;transform:scaleX(0.8)">21/2</span></div>
<div class="c" style="left:679.17px;top:401.24px;width:37.43px;height:7.24px;font-size:5.0px;color:#6a6a6a;"><span style="display:inline-block;transform:scaleX(0.8)">3</span></div>
<div class="abs" style="left:431.00px;top:415.00px;width:286.00px;height:1.00px;background:#c6c6c6"></div>
<div class="c" style="left:431.20px;top:407.67px;width:23.40px;height:7.24px;font-size:5.0px;color:#666;"><span style="display:inline-block;transform:scaleX(0.95)">mm</span></div>
<div class="c" style="left:454.60px;top:408.47px;width:37.43px;height:7.24px;font-size:5.0px;color:#6a6a6a;"><span style="display:inline-block;transform:scaleX(0.8)">165</span></div>
<div class="c" style="left:492.03px;top:408.47px;width:37.43px;height:7.24px;font-size:5.0px;color:#6a6a6a;"><span style="display:inline-block;transform:scaleX(0.8)">190</span></div>
<div class="c" style="left:529.46px;top:408.47px;width:37.43px;height:7.24px;font-size:5.0px;color:#6a6a6a;"><span style="display:inline-block;transform:scaleX(0.8)">216</span></div>
<div class="c" style="left:566.89px;top:408.47px;width:37.43px;height:7.24px;font-size:5.0px;color:#6a6a6a;"><span style="display:inline-block;transform:scaleX(0.8)">241</span></div>
<div class="c" style="left:604.31px;top:408.47px;width:37.43px;height:7.24px;font-size:5.0px;color:#6a6a6a;"><span style="display:inline-block;transform:scaleX(0.8)">292</span></div>
<div class="c" style="left:641.74px;top:408.47px;width:37.43px;height:7.24px;font-size:5.0px;color:#6a6a6a;"><span style="display:inline-block;transform:scaleX(0.8)">330</span></div>
<div class="c" style="left:679.17px;top:408.47px;width:37.43px;height:7.24px;font-size:5.0px;color:#6a6a6a;"><span style="display:inline-block;transform:scaleX(0.8)">356</span></div>
<div class="abs" style="left:431.00px;top:422.00px;width:286.00px;height:1.00px;background:#c6c6c6"></div>
<div class="c" style="left:431.20px;top:414.91px;width:23.40px;height:7.24px;font-size:5.0px;color:#666;"><span style="display:inline-block;transform:scaleX(0.95)">in</span></div>
<div class="c" style="left:454.60px;top:415.71px;width:37.43px;height:7.24px;font-size:5.0px;color:#6a6a6a;"><span style="display:inline-block;transform:scaleX(0.8)">6.5</span></div>
<div class="c" style="left:492.03px;top:415.71px;width:37.43px;height:7.24px;font-size:5.0px;color:#6a6a6a;"><span style="display:inline-block;transform:scaleX(0.8)">7.48</span></div>
<div class="c" style="left:529.46px;top:415.71px;width:37.43px;height:7.24px;font-size:5.0px;color:#6a6a6a;"><span style="display:inline-block;transform:scaleX(0.8)">8.5</span></div>
<div class="c" style="left:566.89px;top:415.71px;width:37.43px;height:7.24px;font-size:5.0px;color:#6a6a6a;"><span style="display:inline-block;transform:scaleX(0.8)">9.5</span></div>
<div class="c" style="left:604.31px;top:415.71px;width:37.43px;height:7.24px;font-size:5.0px;color:#6a6a6a;"><span style="display:inline-block;transform:scaleX(0.8)">11.5</span></div>
<div class="c" style="left:641.74px;top:415.71px;width:37.43px;height:7.24px;font-size:5.0px;color:#6a6a6a;"><span style="display:inline-block;transform:scaleX(0.8)">13</span></div>
<div class="c" style="left:679.17px;top:415.71px;width:37.43px;height:7.24px;font-size:5.0px;color:#6a6a6a;"><span style="display:inline-block;transform:scaleX(0.8)">14</span></div>
<div class="abs" style="left:431.00px;top:429.00px;width:286.00px;height:1.00px;background:#c6c6c6"></div>
<div class="c" style="left:431.20px;top:422.14px;width:23.40px;height:7.24px;font-size:5.0px;color:#666;"><span style="display:inline-block;transform:scaleX(0.95)">mm</span></div>
<div class="c" style="left:454.60px;top:422.94px;width:37.43px;height:7.24px;font-size:5.0px;color:#6a6a6a;"><span style="display:inline-block;transform:scaleX(0.8)">165</span></div>
<div class="c" style="left:492.03px;top:422.94px;width:37.43px;height:7.24px;font-size:5.0px;color:#6a6a6a;"><span style="display:inline-block;transform:scaleX(0.8)">190</span></div>
<div class="c" style="left:529.46px;top:422.94px;width:37.43px;height:7.24px;font-size:5.0px;color:#6a6a6a;"><span style="display:inline-block;transform:scaleX(0.8)">216</span></div>
<div class="c" style="left:566.89px;top:422.94px;width:37.43px;height:7.24px;font-size:5.0px;color:#6a6a6a;"><span style="display:inline-block;transform:scaleX(0.8)">241</span></div>
<div class="c" style="left:604.31px;top:422.94px;width:37.43px;height:7.24px;font-size:5.0px;color:#6a6a6a;"><span style="display:inline-block;transform:scaleX(0.8)">292</span></div>
<div class="c" style="left:641.74px;top:422.94px;width:37.43px;height:7.24px;font-size:5.0px;color:#6a6a6a;"><span style="display:inline-block;transform:scaleX(0.8)">330</span></div>
<div class="c" style="left:679.17px;top:422.94px;width:37.43px;height:7.24px;font-size:5.0px;color:#6a6a6a;"><span style="display:inline-block;transform:scaleX(0.8)">356</span></div>
<div class="abs" style="left:431.00px;top:436.00px;width:286.00px;height:1.00px;background:#c6c6c6"></div>
<div class="c" style="left:431.20px;top:429.38px;width:23.40px;height:7.24px;font-size:5.0px;color:#666;"><span style="display:inline-block;transform:scaleX(0.95)">in</span></div>
<div class="c" style="left:454.60px;top:430.18px;width:37.43px;height:7.24px;font-size:5.0px;color:#6a6a6a;"><span style="display:inline-block;transform:scaleX(0.8)">6.5</span></div>
<div class="c" style="left:492.03px;top:430.18px;width:37.43px;height:7.24px;font-size:5.0px;color:#6a6a6a;"><span style="display:inline-block;transform:scaleX(0.8)">7.48</span></div>
<div class="c" style="left:529.46px;top:430.18px;width:37.43px;height:7.24px;font-size:5.0px;color:#6a6a6a;"><span style="display:inline-block;transform:scaleX(0.8)">8.5</span></div>
<div class="c" style="left:566.89px;top:430.18px;width:37.43px;height:7.24px;font-size:5.0px;color:#6a6a6a;"><span style="display:inline-block;transform:scaleX(0.8)">9.5</span></div>
<div class="c" style="left:604.31px;top:430.18px;width:37.43px;height:7.24px;font-size:5.0px;color:#6a6a6a;"><span style="display:inline-block;transform:scaleX(0.8)">11.5</span></div>
<div class="c" style="left:641.74px;top:430.18px;width:37.43px;height:7.24px;font-size:5.0px;color:#6a6a6a;"><span style="display:inline-block;transform:scaleX(0.8)">13</span></div>
<div class="c" style="left:679.17px;top:430.18px;width:37.43px;height:7.24px;font-size:5.0px;color:#6a6a6a;"><span style="display:inline-block;transform:scaleX(0.8)">14</span></div>
<div class="abs" style="left:431.00px;top:444.00px;width:286.00px;height:1.00px;background:#c6c6c6"></div>
<div class="c" style="left:431.20px;top:436.61px;width:23.40px;height:7.24px;font-size:5.0px;color:#666;"><span style="display:inline-block;transform:scaleX(0.95)">mm</span></div>
<div class="c" style="left:454.60px;top:437.41px;width:37.43px;height:7.24px;font-size:5.0px;color:#6a6a6a;"><span style="display:inline-block;transform:scaleX(0.8)">163.4</span></div>
<div class="c" style="left:492.03px;top:437.41px;width:37.43px;height:7.24px;font-size:5.0px;color:#6a6a6a;"><span style="display:inline-block;transform:scaleX(0.8)">190</span></div>
<div class="c" style="left:529.46px;top:437.41px;width:37.43px;height:7.24px;font-size:5.0px;color:#6a6a6a;"><span style="display:inline-block;transform:scaleX(0.8)">216</span></div>
<div class="c" style="left:566.89px;top:437.41px;width:37.43px;height:7.24px;font-size:5.0px;color:#6a6a6a;"><span style="display:inline-block;transform:scaleX(0.8)">241</span></div>
<div class="c" style="left:604.31px;top:437.41px;width:37.43px;height:7.24px;font-size:5.0px;color:#6a6a6a;"><span style="display:inline-block;transform:scaleX(0.8)">295</span></div>
<div class="c" style="left:641.74px;top:437.41px;width:37.43px;height:7.24px;font-size:5.0px;color:#6a6a6a;"><span style="display:inline-block;transform:scaleX(0.8)">333</span></div>
<div class="c" style="left:679.17px;top:437.41px;width:37.43px;height:7.24px;font-size:5.0px;color:#6a6a6a;"><span style="display:inline-block;transform:scaleX(0.8)">359</span></div>
<div class="abs" style="left:431.00px;top:451.00px;width:286.00px;height:1.00px;background:#c6c6c6"></div>
<div class="c" style="left:431.20px;top:443.85px;width:23.40px;height:7.24px;font-size:5.0px;color:#666;"><span style="display:inline-block;transform:scaleX(0.95)">in</span></div>
<div class="c" style="left:454.60px;top:444.65px;width:37.43px;height:7.24px;font-size:5.0px;color:#6a6a6a;"><span style="display:inline-block;transform:scaleX(0.8)">6.43</span></div>
<div class="c" style="left:492.03px;top:444.65px;width:37.43px;height:7.24px;font-size:5.0px;color:#6a6a6a;"><span style="display:inline-block;transform:scaleX(0.8)">7.48</span></div>
<div class="c" style="left:529.46px;top:444.65px;width:37.43px;height:7.24px;font-size:5.0px;color:#6a6a6a;"><span style="display:inline-block;transform:scaleX(0.8)">8.5</span></div>
<div class="c" style="left:566.89px;top:444.65px;width:37.43px;height:7.24px;font-size:5.0px;color:#6a6a6a;"><span style="display:inline-block;transform:scaleX(0.8)">9.5</span></div>
<div class="c" style="left:604.31px;top:444.65px;width:37.43px;height:7.24px;font-size:5.0px;color:#6a6a6a;"><span style="display:inline-block;transform:scaleX(0.8)">11.63</span></div>
<div class="c" style="left:641.74px;top:444.65px;width:37.43px;height:7.24px;font-size:5.0px;color:#6a6a6a;"><span style="display:inline-block;transform:scaleX(0.8)">13.13</span></div>
<div class="c" style="left:679.17px;top:444.65px;width:37.43px;height:7.24px;font-size:5.0px;color:#6a6a6a;"><span style="display:inline-block;transform:scaleX(0.8)">14.13</span></div>
<div class="abs" style="left:431.00px;top:458.00px;width:286.00px;height:1.00px;background:#c6c6c6"></div>
<div class="c" style="left:431.20px;top:451.09px;width:23.40px;height:7.24px;font-size:5.0px;color:#666;"><span style="display:inline-block;transform:scaleX(0.95)">mm</span></div>
<div class="c" style="left:454.60px;top:451.89px;width:37.43px;height:7.24px;font-size:5.0px;color:#6a6a6a;"><span style="display:inline-block;transform:scaleX(0.8)">59</span></div>
<div class="c" style="left:492.03px;top:451.89px;width:37.43px;height:7.24px;font-size:5.0px;color:#6a6a6a;"><span style="display:inline-block;transform:scaleX(0.8)">63</span></div>
<div class="c" style="left:529.46px;top:451.89px;width:37.43px;height:7.24px;font-size:5.0px;color:#6a6a6a;"><span style="display:inline-block;transform:scaleX(0.8)">75</span></div>
<div class="c" style="left:566.89px;top:451.89px;width:37.43px;height:7.24px;font-size:5.0px;color:#6a6a6a;"><span style="display:inline-block;transform:scaleX(0.8)">107</span></div>
<div class="c" style="left:604.31px;top:451.89px;width:37.43px;height:7.24px;font-size:5.0px;color:#6a6a6a;"><span style="display:inline-block;transform:scaleX(0.8)">153</span></div>
<div class="c" style="left:641.74px;top:451.89px;width:37.43px;height:7.24px;font-size:5.0px;color:#6a6a6a;"><span style="display:inline-block;transform:scaleX(0.8)">165</span></div>
<div class="c" style="left:679.17px;top:451.89px;width:37.43px;height:7.24px;font-size:5.0px;color:#6a6a6a;"><span style="display:inline-block;transform:scaleX(0.8)">195</span></div>
<div class="abs" style="left:431.00px;top:465.00px;width:286.00px;height:1.00px;background:#c6c6c6"></div>
<div class="c" style="left:431.20px;top:458.32px;width:23.40px;height:7.24px;font-size:5.0px;color:#666;"><span style="display:inline-block;transform:scaleX(0.95)">in</span></div>
<div class="c" style="left:454.60px;top:459.12px;width:37.43px;height:7.24px;font-size:5.0px;color:#6a6a6a;"><span style="display:inline-block;transform:scaleX(0.8)">2.3</span></div>
<div class="c" style="left:492.03px;top:459.12px;width:37.43px;height:7.24px;font-size:5.0px;color:#6a6a6a;"><span style="display:inline-block;transform:scaleX(0.8)">2.5</span></div>
<div class="c" style="left:529.46px;top:459.12px;width:37.43px;height:7.24px;font-size:5.0px;color:#6a6a6a;"><span style="display:inline-block;transform:scaleX(0.8)">2.95</span></div>
<div class="c" style="left:566.89px;top:459.12px;width:37.43px;height:7.24px;font-size:5.0px;color:#6a6a6a;"><span style="display:inline-block;transform:scaleX(0.8)">4.2</span></div>
<div class="c" style="left:604.31px;top:459.12px;width:37.43px;height:7.24px;font-size:5.0px;color:#6a6a6a;"><span style="display:inline-block;transform:scaleX(0.8)">6.02</span></div>
<div class="c" style="left:641.74px;top:459.12px;width:37.43px;height:7.24px;font-size:5.0px;color:#6a6a6a;"><span style="display:inline-block;transform:scaleX(0.8)">6.5</span></div>
<div class="c" style="left:679.17px;top:459.12px;width:37.43px;height:7.24px;font-size:5.0px;color:#6a6a6a;"><span style="display:inline-block;transform:scaleX(0.8)">7.68</span></div>
<div class="abs" style="left:431.00px;top:473.00px;width:286.00px;height:1.00px;background:#c6c6c6"></div>
<div class="c" style="left:431.20px;top:465.56px;width:23.40px;height:7.24px;font-size:5.0px;color:#666;"><span style="display:inline-block;transform:scaleX(0.95)">mm</span></div>
<div class="c" style="left:454.60px;top:466.36px;width:37.43px;height:7.24px;font-size:5.0px;color:#6a6a6a;"><span style="display:inline-block;transform:scaleX(0.8)">130</span></div>
<div class="c" style="left:492.03px;top:466.36px;width:37.43px;height:7.24px;font-size:5.0px;color:#6a6a6a;"><span style="display:inline-block;transform:scaleX(0.8)">160</span></div>
<div class="c" style="left:529.46px;top:466.36px;width:37.43px;height:7.24px;font-size:5.0px;color:#6a6a6a;"><span style="display:inline-block;transform:scaleX(0.8)">160</span></div>
<div class="c" style="left:566.89px;top:466.36px;width:37.43px;height:7.24px;font-size:5.0px;color:#6a6a6a;"><span style="display:inline-block;transform:scaleX(0.8)">230</span></div>
<div class="c" style="left:604.31px;top:466.36px;width:37.43px;height:7.24px;font-size:5.0px;color:#6a6a6a;"><span style="display:inline-block;transform:scaleX(0.8)">600</span></div>
<div class="c" style="left:641.74px;top:466.36px;width:37.43px;height:7.24px;font-size:5.0px;color:#6a6a6a;"><span style="display:inline-block;transform:scaleX(0.8)">850</span></div>
<div class="c" style="left:679.17px;top:466.36px;width:37.43px;height:7.24px;font-size:5.0px;color:#6a6a6a;"><span style="display:inline-block;transform:scaleX(0.8)">1250</span></div>
<div class="abs" style="left:431.00px;top:480.00px;width:286.00px;height:1.00px;background:#c6c6c6"></div>
<div class="c" style="left:431.20px;top:472.79px;width:23.40px;height:7.24px;font-size:5.0px;color:#666;"><span style="display:inline-block;transform:scaleX(0.95)">in</span></div>
<div class="c" style="left:454.60px;top:473.59px;width:37.43px;height:7.24px;font-size:5.0px;color:#6a6a6a;"><span style="display:inline-block;transform:scaleX(0.8)">5.1</span></div>
<div class="c" style="left:492.03px;top:473.59px;width:37.43px;height:7.24px;font-size:5.0px;color:#6a6a6a;"><span style="display:inline-block;transform:scaleX(0.8)">6.3</span></div>
<div class="c" style="left:529.46px;top:473.59px;width:37.43px;height:7.24px;font-size:5.0px;color:#6a6a6a;"><span style="display:inline-block;transform:scaleX(0.8)">6.3</span></div>
<div class="c" style="left:566.89px;top:473.59px;width:37.43px;height:7.24px;font-size:5.0px;color:#6a6a6a;"><span style="display:inline-block;transform:scaleX(0.8)">9</span></div>
<div class="c" style="left:604.31px;top:473.59px;width:37.43px;height:7.24px;font-size:5.0px;color:#6a6a6a;"><span style="display:inline-block;transform:scaleX(0.8)">23.62</span></div>
<div class="c" style="left:641.74px;top:473.59px;width:37.43px;height:7.24px;font-size:5.0px;color:#6a6a6a;"><span style="display:inline-block;transform:scaleX(0.8)">33.46</span></div>
<div class="c" style="left:679.17px;top:473.59px;width:37.43px;height:7.24px;font-size:5.0px;color:#6a6a6a;"><span style="display:inline-block;transform:scaleX(0.8)">49.25</span></div>
<div class="abs" style="left:431.00px;top:487.00px;width:286.00px;height:1.00px;background:#c6c6c6"></div>
<div class="c" style="left:431.20px;top:480.03px;width:23.40px;height:7.24px;font-size:5.0px;color:#666;"><span style="display:inline-block;transform:scaleX(0.95)"></span></div>
<div class="c" style="left:454.60px;top:480.83px;width:37.43px;height:7.24px;font-size:5.0px;color:#6a6a6a;"><span style="display:inline-block;transform:scaleX(0.8)">7.5</span></div>
<div class="c" style="left:492.03px;top:480.83px;width:37.43px;height:7.24px;font-size:5.0px;color:#6a6a6a;"><span style="display:inline-block;transform:scaleX(0.8)">10.5</span></div>
<div class="c" style="left:529.46px;top:480.83px;width:37.43px;height:7.24px;font-size:5.0px;color:#6a6a6a;"><span style="display:inline-block;transform:scaleX(0.8)">14.5</span></div>
<div class="c" style="left:566.89px;top:480.83px;width:37.43px;height:7.24px;font-size:5.0px;color:#6a6a6a;"><span style="display:inline-block;transform:scaleX(0.8)">18.5</span></div>
<div class="c" style="left:604.31px;top:480.83px;width:37.43px;height:7.24px;font-size:5.0px;color:#6a6a6a;"><span style="display:inline-block;transform:scaleX(0.8)">38</span></div>
<div class="c" style="left:641.74px;top:480.83px;width:37.43px;height:7.24px;font-size:5.0px;color:#6a6a6a;"><span style="display:inline-block;transform:scaleX(0.8)">56</span></div>
<div class="c" style="left:679.17px;top:480.83px;width:37.43px;height:7.24px;font-size:5.0px;color:#6a6a6a;"><span style="display:inline-block;transform:scaleX(0.8)">66</span></div>
<div class="abs" style="left:431.00px;top:494.00px;width:286.00px;height:1.00px;background:#c6c6c6"></div>
<div class="c" style="left:431.20px;top:487.26px;width:23.40px;height:7.24px;font-size:5.0px;color:#666;"><span style="display:inline-block;transform:scaleX(0.95)"></span></div>
<div class="c" style="left:454.60px;top:488.06px;width:37.43px;height:7.24px;font-size:5.0px;color:#6a6a6a;"><span style="display:inline-block;transform:scaleX(0.8)">6</span></div>
<div class="c" style="left:492.03px;top:488.06px;width:37.43px;height:7.24px;font-size:5.0px;color:#6a6a6a;"><span style="display:inline-block;transform:scaleX(0.8)">8.7</span></div>
<div class="c" style="left:529.46px;top:488.06px;width:37.43px;height:7.24px;font-size:5.0px;color:#6a6a6a;"><span style="display:inline-block;transform:scaleX(0.8)">11</span></div>
<div class="c" style="left:566.89px;top:488.06px;width:37.43px;height:7.24px;font-size:5.0px;color:#6a6a6a;"><span style="display:inline-block;transform:scaleX(0.8)">14.7</span></div>
<div class="c" style="left:604.31px;top:488.06px;width:37.43px;height:7.24px;font-size:5.0px;color:#6a6a6a;"><span style="display:inline-block;transform:scaleX(0.8)">31</span></div>
<div class="c" style="left:641.74px;top:488.06px;width:37.43px;height:7.24px;font-size:5.0px;color:#6a6a6a;"><span style="display:inline-block;transform:scaleX(0.8)">49</span></div>
<div class="c" style="left:679.17px;top:488.06px;width:37.43px;height:7.24px;font-size:5.0px;color:#6a6a6a;"><span style="display:inline-block;transform:scaleX(0.8)">58</span></div>
<div class="abs" style="left:431.00px;top:394.00px;width:1.00px;height:101.00px;background:#d2d2d2"></div>
<div class="abs" style="left:455.00px;top:394.00px;width:1.00px;height:101.00px;background:#d2d2d2"></div>
<div class="abs" style="left:492.00px;top:394.00px;width:1.00px;height:101.00px;background:#d2d2d2"></div>
<div class="abs" style="left:529.00px;top:394.00px;width:1.00px;height:101.00px;background:#d2d2d2"></div>
<div class="abs" style="left:567.00px;top:394.00px;width:1.00px;height:101.00px;background:#d2d2d2"></div>
<div class="abs" style="left:604.00px;top:394.00px;width:1.00px;height:101.00px;background:#d2d2d2"></div>
<div class="abs" style="left:642.00px;top:394.00px;width:1.00px;height:101.00px;background:#d2d2d2"></div>
<div class="abs" style="left:679.00px;top:394.00px;width:1.00px;height:101.00px;background:#d2d2d2"></div>
<div class="t" style="left:407.7px;top:497.6px;font-size:4.6px;line-height:1;color:#444;transform:scaleX(0.887)">* Worm Gear of Electric actuator operated.</div>
<div class="abs" style="left:739px;top:233px;width:5px;height:75px;background:#0a46b4"></div>
</body></html>
